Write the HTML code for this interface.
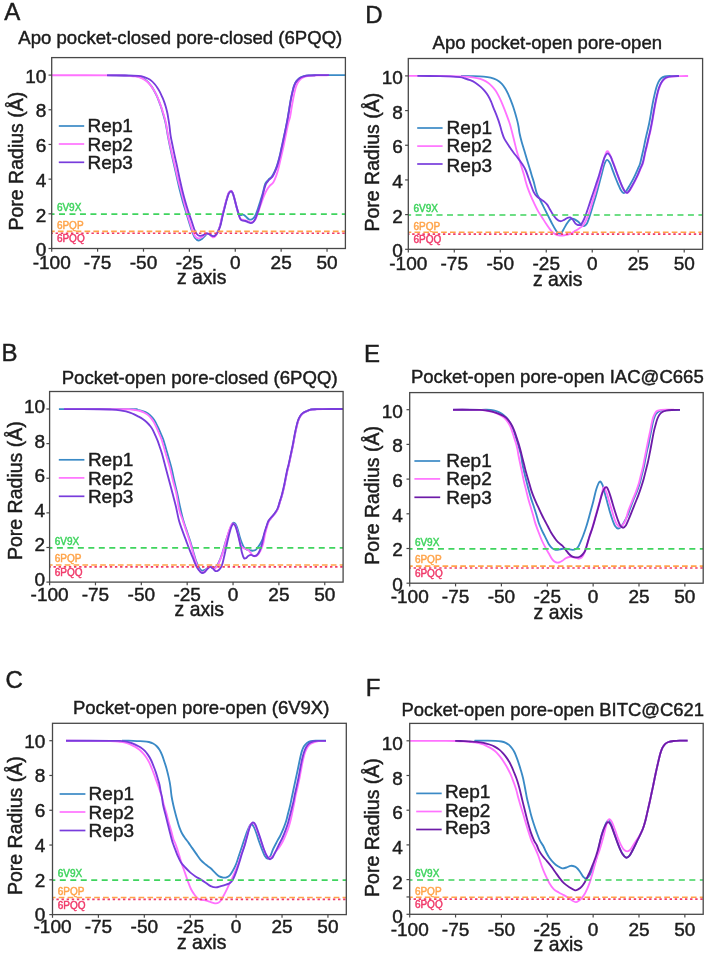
<!DOCTYPE html><html><head><meta charset="utf-8"><style>html,body{margin:0;padding:0;background:#fff;}svg{display:block;will-change:transform;filter:blur(0.4px);}text{font-family:"Liberation Sans", sans-serif;}</style></head><body>
<svg width="707" height="956" viewBox="0 0 707 956">
<rect width="707" height="956" fill="#fff"/>
<text x="4.20" y="20.40" font-size="24" fill="#1c1c1c" stroke="#1c1c1c" stroke-width="0.45">A</text>
<text x="18.30" y="43.80" font-size="18.57" fill="#1c1c1c" stroke="#1c1c1c" stroke-width="0.45">Apo pocket-closed pore-closed (6PQQ)</text>
<text transform="translate(22.60,230.50) rotate(-90)" font-size="19.5" fill="#1c1c1c" stroke="#1c1c1c" stroke-width="0.45">Pore Radius (Å)</text>
<text x="176.90" y="284.10" font-size="19.35" fill="#1c1c1c" stroke="#1c1c1c" stroke-width="0.45">z axis</text>
<clipPath id="clipA"><rect x="51.70" y="57.60" width="293.70" height="190.90"/></clipPath>
<g clip-path="url(#clipA)">
<path d="M107.00,75.20 C110.83,75.27 125.17,75.43 130.00,75.60 C134.83,75.77 134.17,75.88 136.00,76.20 C137.83,76.52 139.50,76.93 141.00,77.50 C142.50,78.07 143.75,78.75 145.00,79.60 C146.25,80.45 147.42,81.47 148.50,82.60 C149.58,83.73 150.58,85.08 151.50,86.40 C152.42,87.72 153.18,89.03 154.00,90.50 C154.82,91.97 155.60,93.48 156.40,95.20 C157.20,96.92 158.00,98.75 158.80,100.80 C159.60,102.85 160.47,105.27 161.20,107.50 C161.93,109.73 162.58,112.08 163.20,114.20 C163.82,116.32 164.43,118.40 164.90,120.20 C165.37,122.00 165.52,122.43 166.00,125.00 C166.48,127.57 167.15,132.07 167.80,135.60 C168.45,139.13 169.17,142.67 169.90,146.20 C170.63,149.73 171.42,153.27 172.20,156.80 C172.98,160.33 173.80,163.87 174.60,167.40 C175.40,170.93 176.12,174.13 177.00,178.00 C177.88,181.87 178.95,186.73 179.90,190.60 C180.85,194.47 181.70,197.67 182.70,201.20 C183.70,204.73 184.90,208.50 185.90,211.80 C186.90,215.10 187.70,217.82 188.70,221.00 C189.70,224.18 190.83,228.07 191.90,230.90 C192.97,233.73 193.98,236.40 195.10,238.00 C196.22,239.60 197.42,240.38 198.60,240.50 C199.78,240.62 201.13,239.47 202.20,238.70 C203.27,237.93 204.18,236.73 205.00,235.90 C205.82,235.07 206.28,233.93 207.10,233.70 C207.92,233.47 208.95,234.02 209.90,234.50 C210.85,234.98 211.97,236.37 212.80,236.60 C213.63,236.83 214.15,236.57 214.90,235.90 C215.65,235.23 216.43,234.28 217.30,232.60 C218.17,230.92 219.28,228.47 220.10,225.80 C220.92,223.13 221.48,219.55 222.20,216.60 C222.92,213.65 223.67,210.93 224.40,208.10 C225.13,205.27 225.88,202.08 226.60,199.60 C227.32,197.12 228.00,194.62 228.70,193.20 C229.40,191.78 230.15,191.15 230.80,191.10 C231.45,191.05 232.02,191.72 232.60,192.90 C233.18,194.08 233.72,196.13 234.30,198.20 C234.88,200.27 235.43,202.80 236.10,205.30 C236.77,207.80 237.57,211.58 238.30,213.20 C239.03,214.82 239.73,214.75 240.50,215.00 C241.27,215.25 242.20,214.63 242.90,214.70 C243.60,214.77 244.05,214.93 244.70,215.40 C245.35,215.87 246.10,216.85 246.80,217.50 C247.50,218.15 248.18,218.95 248.90,219.30 C249.62,219.65 250.33,219.78 251.10,219.60 C251.87,219.42 252.73,219.02 253.50,218.20 C254.27,217.38 254.98,216.23 255.70,214.70 C256.42,213.17 257.03,211.25 257.80,209.00 C258.57,206.75 259.48,203.80 260.30,201.20 C261.12,198.60 261.87,196.32 262.70,193.40 C263.53,190.48 264.38,185.93 265.30,183.70 C266.22,181.47 267.08,181.23 268.20,180.00 C269.32,178.77 270.90,177.78 272.00,176.30 C273.10,174.82 273.95,172.93 274.80,171.10 C275.65,169.27 276.33,167.62 277.10,165.30 C277.87,162.98 278.72,159.88 279.40,157.20 C280.08,154.52 280.58,152.00 281.20,149.20 C281.82,146.40 282.47,143.33 283.10,140.40 C283.73,137.47 284.38,134.53 285.00,131.60 C285.62,128.67 286.32,125.27 286.80,122.80 C287.28,120.33 287.48,119.22 287.90,116.80 C288.32,114.38 288.83,111.13 289.30,108.30 C289.77,105.47 290.22,102.38 290.70,99.80 C291.18,97.22 291.72,94.92 292.20,92.80 C292.68,90.68 293.08,88.75 293.60,87.10 C294.12,85.45 294.65,84.08 295.30,82.90 C295.95,81.72 296.67,80.88 297.50,80.00 C298.33,79.12 299.25,78.23 300.30,77.60 C301.35,76.97 302.38,76.57 303.80,76.20 C305.22,75.83 306.80,75.57 308.80,75.40 C310.80,75.23 309.70,75.25 315.80,75.20 C321.90,75.15 340.47,75.12 345.40,75.10" fill="none" stroke="#3a8ac6" stroke-width="1.85" stroke-linejoin="round" stroke-linecap="butt"/>
<path d="M51.70,75.20 C63.08,75.22 106.95,75.18 120.00,75.30 C133.05,75.42 127.48,75.72 130.00,75.90 C132.52,76.08 133.40,76.12 135.10,76.40 C136.80,76.68 138.65,77.03 140.20,77.60 C141.75,78.17 143.13,79.02 144.40,79.80 C145.67,80.58 146.67,81.25 147.80,82.30 C148.93,83.35 150.20,84.82 151.20,86.10 C152.20,87.38 152.95,88.58 153.80,90.00 C154.65,91.42 155.45,92.83 156.30,94.60 C157.15,96.37 158.05,98.47 158.90,100.60 C159.75,102.73 160.63,105.15 161.40,107.40 C162.17,109.65 162.87,111.98 163.50,114.10 C164.13,116.22 164.73,118.28 165.20,120.10 C165.67,121.92 165.82,122.42 166.30,125.00 C166.78,127.58 167.43,132.07 168.10,135.60 C168.77,139.13 169.53,142.67 170.30,146.20 C171.07,149.73 171.88,153.27 172.70,156.80 C173.52,160.33 174.35,163.78 175.20,167.40 C176.05,171.02 176.83,174.63 177.80,178.50 C178.77,182.37 180.00,186.82 181.00,190.60 C182.00,194.38 182.87,197.67 183.80,201.20 C184.73,204.73 185.67,208.50 186.60,211.80 C187.53,215.10 188.40,217.82 189.40,221.00 C190.40,224.18 191.60,228.30 192.60,230.90 C193.60,233.50 194.40,235.37 195.40,236.60 C196.40,237.83 197.53,238.18 198.60,238.30 C199.67,238.42 200.73,237.93 201.80,237.30 C202.87,236.67 204.12,235.15 205.00,234.50 C205.88,233.85 206.28,233.35 207.10,233.40 C207.92,233.45 208.95,234.15 209.90,234.80 C210.85,235.45 211.97,237.00 212.80,237.30 C213.63,237.60 214.15,237.32 214.90,236.60 C215.65,235.88 216.48,234.68 217.30,233.00 C218.12,231.32 219.02,229.17 219.80,226.50 C220.58,223.83 221.27,220.03 222.00,217.00 C222.73,213.97 223.47,211.17 224.20,208.30 C224.93,205.43 225.67,202.35 226.40,199.80 C227.13,197.25 227.87,194.50 228.60,193.00 C229.33,191.50 230.13,190.85 230.80,190.80 C231.47,190.75 232.02,191.50 232.60,192.70 C233.18,193.90 233.72,195.92 234.30,198.00 C234.88,200.08 235.50,202.95 236.10,205.20 C236.70,207.45 237.37,209.62 237.90,211.50 C238.43,213.38 238.82,215.22 239.30,216.50 C239.78,217.78 240.20,218.67 240.80,219.20 C241.40,219.73 242.13,219.52 242.90,219.70 C243.67,219.88 244.57,220.03 245.40,220.30 C246.23,220.57 247.02,220.97 247.90,221.30 C248.78,221.63 249.82,222.27 250.70,222.30 C251.58,222.33 252.40,222.02 253.20,221.50 C254.00,220.98 254.73,220.53 255.50,219.20 C256.27,217.87 256.97,215.78 257.80,213.50 C258.63,211.22 259.50,208.37 260.50,205.50 C261.50,202.63 262.75,198.88 263.80,196.30 C264.85,193.72 265.82,191.73 266.80,190.00 C267.78,188.27 268.60,187.20 269.70,185.90 C270.80,184.60 272.30,183.92 273.40,182.20 C274.50,180.48 275.45,177.92 276.30,175.60 C277.15,173.28 277.77,171.10 278.50,168.30 C279.23,165.50 279.97,161.97 280.70,158.80 C281.43,155.63 282.23,152.35 282.90,149.30 C283.57,146.25 284.10,143.43 284.70,140.50 C285.30,137.57 285.88,134.63 286.50,131.70 C287.12,128.77 287.80,125.37 288.40,122.90 C289.00,120.43 289.58,119.32 290.10,116.90 C290.62,114.48 291.02,111.23 291.50,108.40 C291.98,105.57 292.52,102.48 293.00,99.90 C293.48,97.32 293.93,95.02 294.40,92.90 C294.87,90.78 295.27,88.85 295.80,87.20 C296.33,85.55 296.95,84.18 297.60,83.00 C298.25,81.82 298.93,80.93 299.70,80.10 C300.47,79.27 301.27,78.58 302.20,78.00 C303.13,77.42 304.00,76.97 305.30,76.60 C306.60,76.23 307.88,76.02 310.00,75.80 C312.12,75.58 314.83,75.40 318.00,75.30 C321.17,75.20 327.17,75.22 329.00,75.20" fill="none" stroke="#ff72ff" stroke-width="1.85" stroke-linejoin="round" stroke-linecap="butt"/>
<path d="M107.00,75.30 C110.00,75.33 121.17,75.43 125.00,75.50 C128.83,75.57 127.75,75.63 130.00,75.70 C132.25,75.77 136.23,75.72 138.50,75.90 C140.77,76.08 142.05,76.37 143.60,76.80 C145.15,77.23 146.53,77.87 147.80,78.50 C149.07,79.13 150.07,79.68 151.20,80.60 C152.33,81.52 153.60,82.87 154.60,84.00 C155.60,85.13 156.35,86.13 157.20,87.40 C158.05,88.67 158.85,89.97 159.70,91.60 C160.55,93.23 161.58,95.57 162.30,97.20 C163.02,98.83 163.43,99.85 164.00,101.40 C164.57,102.95 165.13,104.52 165.70,106.50 C166.27,108.48 166.95,111.22 167.40,113.30 C167.85,115.38 168.07,116.97 168.40,119.00 C168.73,121.03 169.03,122.73 169.40,125.50 C169.77,128.27 170.05,132.15 170.60,135.60 C171.15,139.05 171.98,142.67 172.70,146.20 C173.42,149.73 174.13,153.27 174.90,156.80 C175.67,160.33 176.52,163.78 177.30,167.40 C178.08,171.02 178.75,174.63 179.60,178.50 C180.45,182.37 181.47,186.82 182.40,190.60 C183.33,194.38 184.20,197.67 185.20,201.20 C186.20,204.73 187.33,208.50 188.40,211.80 C189.47,215.10 190.60,218.05 191.60,221.00 C192.60,223.95 193.47,227.25 194.40,229.50 C195.33,231.75 196.27,233.43 197.20,234.50 C198.13,235.57 199.00,235.78 200.00,235.90 C201.00,236.02 202.13,235.62 203.20,235.20 C204.27,234.78 205.40,233.58 206.40,233.40 C207.40,233.22 208.25,233.68 209.20,234.10 C210.15,234.52 211.18,235.60 212.10,235.90 C213.02,236.20 213.80,236.45 214.70,235.90 C215.60,235.35 216.57,234.25 217.50,232.60 C218.43,230.95 219.48,228.63 220.30,226.00 C221.12,223.37 221.70,219.75 222.40,216.80 C223.10,213.85 223.78,211.13 224.50,208.30 C225.22,205.47 225.98,202.28 226.70,199.80 C227.42,197.32 228.10,194.82 228.80,193.40 C229.50,191.98 230.25,191.35 230.90,191.30 C231.55,191.25 232.12,191.92 232.70,193.10 C233.28,194.28 233.82,196.33 234.40,198.40 C234.98,200.47 235.60,203.27 236.20,205.50 C236.80,207.73 237.47,209.92 238.00,211.80 C238.53,213.68 238.93,215.50 239.40,216.80 C239.87,218.10 240.22,218.95 240.80,219.60 C241.38,220.25 242.13,220.47 242.90,220.70 C243.67,220.93 244.57,220.77 245.40,221.00 C246.23,221.23 247.02,221.75 247.90,222.10 C248.78,222.45 249.82,223.10 250.70,223.10 C251.58,223.10 252.43,222.80 253.20,222.10 C253.97,221.40 254.60,220.38 255.30,218.90 C256.00,217.42 256.63,215.43 257.40,213.20 C258.17,210.97 259.07,208.32 259.90,205.50 C260.73,202.68 261.72,198.88 262.40,196.30 C263.08,193.72 263.38,192.10 264.00,190.00 C264.62,187.90 265.27,185.37 266.10,183.70 C266.93,182.03 267.92,181.22 269.00,180.00 C270.08,178.78 271.57,177.87 272.60,176.40 C273.63,174.93 274.40,173.03 275.20,171.20 C276.00,169.37 276.67,167.72 277.40,165.40 C278.13,163.08 278.93,159.98 279.60,157.30 C280.27,154.62 280.78,152.10 281.40,149.30 C282.02,146.50 282.68,143.43 283.30,140.50 C283.92,137.57 284.50,134.63 285.10,131.70 C285.70,128.77 286.42,125.37 286.90,122.90 C287.38,120.43 287.58,119.32 288.00,116.90 C288.42,114.48 288.93,111.23 289.40,108.40 C289.87,105.57 290.32,102.48 290.80,99.90 C291.28,97.32 291.82,95.02 292.30,92.90 C292.78,90.78 293.18,88.85 293.70,87.20 C294.22,85.55 294.75,84.18 295.40,83.00 C296.05,81.82 296.77,80.98 297.60,80.10 C298.43,79.22 299.35,78.33 300.40,77.70 C301.45,77.07 302.48,76.67 303.90,76.30 C305.32,75.93 306.90,75.68 308.90,75.50 C310.90,75.32 313.55,75.27 315.90,75.20 C318.25,75.13 320.82,75.12 323.00,75.10 C325.18,75.08 328.00,75.10 329.00,75.10" fill="none" stroke="#783cdc" stroke-width="1.85" stroke-linejoin="round" stroke-linecap="butt"/>
<line x1="51.70" y1="214.17" x2="345.40" y2="214.17" stroke="#3fd45e" stroke-width="1.6" stroke-dasharray="6 4.474" stroke-dashoffset="3.17"/>
<line x1="51.70" y1="231.42" x2="345.40" y2="231.42" stroke="#ffa44a" stroke-width="1.6" stroke-dasharray="5.7 3.17" stroke-dashoffset="2.67"/>
<line x1="51.70" y1="233.29" x2="345.40" y2="233.29" stroke="#f03a6a" stroke-width="1.6" stroke-dasharray="2.4 2.72" stroke-dashoffset="1.22"/>
</g>
<text x="56.90" y="210.90" font-size="10" fill="#3fd45e" stroke="#3fd45e" stroke-width="0.45">6V9X</text>
<text x="56.90" y="228.70" font-size="10" fill="#ffa44a" stroke="#ffa44a" stroke-width="0.45">6PQP</text>
<text x="56.90" y="242.40" font-size="10" fill="#f03a6a" stroke="#f03a6a" stroke-width="0.45">6PQQ</text>
<line x1="58.80" y1="126.00" x2="84.20" y2="126.00" stroke="#3a8ac6" stroke-width="1.7"/>
<text x="87.50" y="132.30" font-size="19" fill="#1c1c1c" stroke="#1c1c1c" stroke-width="0.45">Rep1</text>
<line x1="58.80" y1="144.00" x2="84.20" y2="144.00" stroke="#ff72ff" stroke-width="1.7"/>
<text x="87.50" y="151.00" font-size="19" fill="#1c1c1c" stroke="#1c1c1c" stroke-width="0.45">Rep2</text>
<line x1="58.80" y1="162.30" x2="84.20" y2="162.30" stroke="#783cdc" stroke-width="1.7"/>
<text x="87.50" y="169.40" font-size="19" fill="#1c1c1c" stroke="#1c1c1c" stroke-width="0.45">Rep3</text>
<rect x="51.70" y="57.60" width="293.70" height="190.90" fill="none" stroke="#484848" stroke-width="1.3"/>
<line x1="48.50" y1="248.50" x2="51.70" y2="248.50" stroke="#484848" stroke-width="1.2"/>
<text x="46.40" y="256.20" font-size="19" fill="#1c1c1c" stroke="#1c1c1c" stroke-width="0.45" text-anchor="end">0</text>
<line x1="48.50" y1="213.82" x2="51.70" y2="213.82" stroke="#484848" stroke-width="1.2"/>
<text x="46.40" y="221.52" font-size="19" fill="#1c1c1c" stroke="#1c1c1c" stroke-width="0.45" text-anchor="end">2</text>
<line x1="48.50" y1="179.14" x2="51.70" y2="179.14" stroke="#484848" stroke-width="1.2"/>
<text x="46.40" y="186.84" font-size="19" fill="#1c1c1c" stroke="#1c1c1c" stroke-width="0.45" text-anchor="end">4</text>
<line x1="48.50" y1="144.46" x2="51.70" y2="144.46" stroke="#484848" stroke-width="1.2"/>
<text x="46.40" y="152.16" font-size="19" fill="#1c1c1c" stroke="#1c1c1c" stroke-width="0.45" text-anchor="end">6</text>
<line x1="48.50" y1="109.78" x2="51.70" y2="109.78" stroke="#484848" stroke-width="1.2"/>
<text x="46.40" y="117.48" font-size="19" fill="#1c1c1c" stroke="#1c1c1c" stroke-width="0.45" text-anchor="end">8</text>
<line x1="48.50" y1="75.10" x2="51.70" y2="75.10" stroke="#484848" stroke-width="1.2"/>
<text x="46.40" y="82.80" font-size="19" fill="#1c1c1c" stroke="#1c1c1c" stroke-width="0.45" text-anchor="end">10</text>
<line x1="51.70" y1="248.50" x2="51.70" y2="251.70" stroke="#484848" stroke-width="1.2"/>
<text x="51.70" y="268.50" font-size="19" fill="#1c1c1c" stroke="#1c1c1c" stroke-width="0.45" text-anchor="middle">-100</text>
<line x1="97.59" y1="248.50" x2="97.59" y2="251.70" stroke="#484848" stroke-width="1.2"/>
<text x="97.59" y="268.50" font-size="19" fill="#1c1c1c" stroke="#1c1c1c" stroke-width="0.45" text-anchor="middle">-75</text>
<line x1="143.48" y1="248.50" x2="143.48" y2="251.70" stroke="#484848" stroke-width="1.2"/>
<text x="143.48" y="268.50" font-size="19" fill="#1c1c1c" stroke="#1c1c1c" stroke-width="0.45" text-anchor="middle">-50</text>
<line x1="189.37" y1="248.50" x2="189.37" y2="251.70" stroke="#484848" stroke-width="1.2"/>
<text x="189.37" y="268.50" font-size="19" fill="#1c1c1c" stroke="#1c1c1c" stroke-width="0.45" text-anchor="middle">-25</text>
<line x1="235.26" y1="248.50" x2="235.26" y2="251.70" stroke="#484848" stroke-width="1.2"/>
<text x="235.26" y="268.50" font-size="19" fill="#1c1c1c" stroke="#1c1c1c" stroke-width="0.45" text-anchor="middle">0</text>
<line x1="281.15" y1="248.50" x2="281.15" y2="251.70" stroke="#484848" stroke-width="1.2"/>
<text x="281.15" y="268.50" font-size="19" fill="#1c1c1c" stroke="#1c1c1c" stroke-width="0.45" text-anchor="middle">25</text>
<line x1="327.04" y1="248.50" x2="327.04" y2="251.70" stroke="#484848" stroke-width="1.2"/>
<text x="327.04" y="268.50" font-size="19" fill="#1c1c1c" stroke="#1c1c1c" stroke-width="0.45" text-anchor="middle">50</text>
<text x="1.50" y="361.40" font-size="24" fill="#1c1c1c" stroke="#1c1c1c" stroke-width="0.45">B</text>
<text x="61.70" y="383.70" font-size="18.60" fill="#1c1c1c" stroke="#1c1c1c" stroke-width="0.45">Pocket-open pore-closed (6PQQ)</text>
<text transform="translate(22.30,560.00) rotate(-90)" font-size="19.5" fill="#1c1c1c" stroke="#1c1c1c" stroke-width="0.45">Pore Radius (Å)</text>
<text x="174.60" y="616.30" font-size="19.35" fill="#1c1c1c" stroke="#1c1c1c" stroke-width="0.45">z axis</text>
<clipPath id="clipB"><rect x="49.60" y="391.50" width="293.50" height="190.60"/></clipPath>
<g clip-path="url(#clipB)">
<path d="M58.90,409.10 C70.75,409.10 117.15,409.00 130.00,409.10 C142.85,409.20 134.17,409.45 136.00,409.70 C137.83,409.95 139.42,410.18 141.00,410.60 C142.58,411.02 144.08,411.52 145.50,412.20 C146.92,412.88 148.25,413.68 149.50,414.70 C150.75,415.72 152.00,417.07 153.00,418.30 C154.00,419.53 154.67,420.62 155.50,422.10 C156.33,423.58 157.15,425.37 158.00,427.20 C158.85,429.03 159.75,431.13 160.60,433.10 C161.45,435.07 162.33,436.88 163.10,439.00 C163.87,441.12 164.57,443.67 165.20,445.80 C165.83,447.93 165.87,448.15 166.90,451.80 C167.93,455.45 170.18,462.92 171.40,467.70 C172.62,472.48 173.23,476.25 174.20,480.50 C175.17,484.75 176.18,488.62 177.20,493.20 C178.22,497.78 179.30,503.53 180.30,508.00 C181.30,512.47 182.15,516.27 183.20,520.00 C184.25,523.73 185.47,526.97 186.60,530.40 C187.73,533.83 188.93,537.22 190.00,540.60 C191.07,543.98 192.00,547.32 193.00,550.70 C194.00,554.08 195.00,558.10 196.00,560.90 C197.00,563.70 198.08,565.90 199.00,567.50 C199.92,569.10 200.77,570.00 201.50,570.50 C202.23,571.00 202.60,570.75 203.40,570.50 C204.20,570.25 205.35,569.60 206.30,569.00 C207.25,568.40 208.28,567.30 209.10,566.90 C209.92,566.50 210.43,566.37 211.20,566.60 C211.97,566.83 213.07,568.07 213.70,568.30 C214.33,568.53 214.20,568.88 215.00,568.00 C215.80,567.12 217.32,565.37 218.50,563.00 C219.68,560.63 220.92,557.33 222.10,553.80 C223.28,550.27 224.43,545.57 225.60,541.80 C226.77,538.03 228.03,534.15 229.10,531.20 C230.17,528.25 231.23,525.52 232.00,524.10 C232.77,522.68 233.12,522.70 233.70,522.70 C234.28,522.70 234.85,523.03 235.50,524.10 C236.15,525.17 236.88,526.97 237.60,529.10 C238.32,531.23 239.08,534.55 239.80,536.90 C240.52,539.25 241.20,541.43 241.90,543.20 C242.60,544.97 243.18,546.43 244.00,547.50 C244.82,548.57 245.73,549.13 246.80,549.60 C247.87,550.07 249.33,550.12 250.40,550.30 C251.47,550.48 252.27,550.82 253.20,550.70 C254.13,550.58 255.07,550.37 256.00,549.60 C256.93,548.83 257.85,547.52 258.80,546.10 C259.75,544.68 260.75,543.12 261.70,541.10 C262.65,539.08 263.70,536.35 264.50,534.00 C265.30,531.65 265.82,529.13 266.50,527.00 C267.18,524.87 267.70,522.87 268.60,521.20 C269.50,519.53 270.78,518.40 271.90,517.00 C273.02,515.60 274.32,514.20 275.30,512.80 C276.28,511.40 277.03,510.42 277.80,508.60 C278.57,506.78 279.20,504.13 279.90,501.90 C280.60,499.67 281.32,497.70 282.00,495.20 C282.68,492.70 283.38,489.68 284.00,486.90 C284.62,484.12 285.13,481.30 285.70,478.50 C286.27,475.70 286.90,472.33 287.40,470.10 C287.90,467.87 288.13,467.57 288.70,465.10 C289.27,462.63 290.10,458.58 290.80,455.30 C291.50,452.02 292.25,448.70 292.90,445.40 C293.55,442.10 294.10,438.57 294.70,435.50 C295.30,432.43 295.92,429.48 296.50,427.00 C297.08,424.52 297.55,422.45 298.20,420.60 C298.85,418.75 299.52,417.22 300.40,415.90 C301.28,414.58 302.38,413.52 303.50,412.70 C304.62,411.88 305.80,411.53 307.10,411.00 C308.40,410.47 309.65,409.80 311.30,409.50 C312.95,409.20 311.72,409.27 317.00,409.20 C322.28,409.13 338.67,409.12 343.00,409.10" fill="none" stroke="#3a8ac6" stroke-width="1.85" stroke-linejoin="round" stroke-linecap="butt"/>
<path d="M64.00,409.10 C73.33,409.12 109.00,409.17 120.00,409.20 C131.00,409.23 127.48,409.17 130.00,409.30 C132.52,409.43 133.40,409.72 135.10,410.00 C136.80,410.28 138.65,410.55 140.20,411.00 C141.75,411.45 143.13,412.05 144.40,412.70 C145.67,413.35 146.67,413.97 147.80,414.90 C148.93,415.83 150.20,417.10 151.20,418.30 C152.20,419.50 152.95,420.62 153.80,422.10 C154.65,423.58 155.45,425.37 156.30,427.20 C157.15,429.03 158.05,431.13 158.90,433.10 C159.75,435.07 160.63,436.88 161.40,439.00 C162.17,441.12 162.87,443.67 163.50,445.80 C164.13,447.93 164.13,448.15 165.20,451.80 C166.27,455.45 168.62,462.92 169.90,467.70 C171.18,472.48 171.83,476.25 172.90,480.50 C173.97,484.75 175.23,488.28 176.30,493.20 C177.37,498.12 178.23,505.50 179.30,510.00 C180.37,514.50 181.57,516.80 182.70,520.20 C183.83,523.60 184.97,527.00 186.10,530.40 C187.23,533.80 188.43,537.22 189.50,540.60 C190.57,543.98 191.50,547.32 192.50,550.70 C193.50,554.08 194.52,557.92 195.50,560.90 C196.48,563.88 197.40,566.67 198.40,568.60 C199.40,570.53 200.48,572.02 201.50,572.50 C202.52,572.98 203.50,572.17 204.50,571.50 C205.50,570.83 206.55,569.30 207.50,568.50 C208.45,567.70 209.35,566.78 210.20,566.70 C211.05,566.62 211.80,567.67 212.60,568.00 C213.40,568.33 214.02,569.42 215.00,568.70 C215.98,567.98 217.32,566.05 218.50,563.70 C219.68,561.35 220.92,558.13 222.10,554.60 C223.28,551.07 224.43,546.52 225.60,542.50 C226.77,538.48 228.03,533.57 229.10,530.50 C230.17,527.43 231.27,525.22 232.00,524.10 C232.73,522.98 232.97,523.62 233.50,523.80 C234.03,523.98 234.57,523.97 235.20,525.20 C235.83,526.43 236.60,528.78 237.30,531.20 C238.00,533.62 238.75,537.22 239.40,539.70 C240.05,542.18 240.55,544.68 241.20,546.10 C241.85,547.52 242.48,547.73 243.30,548.20 C244.12,548.67 245.28,548.60 246.10,548.90 C246.92,549.20 247.48,549.42 248.20,550.00 C248.92,550.58 249.68,551.52 250.40,552.40 C251.12,553.28 251.80,554.65 252.50,555.30 C253.20,555.95 253.78,556.30 254.60,556.30 C255.42,556.30 256.45,556.18 257.40,555.30 C258.35,554.42 259.35,552.90 260.30,551.00 C261.25,549.10 262.32,546.65 263.10,543.90 C263.88,541.15 264.38,537.23 265.00,534.50 C265.62,531.77 266.17,529.67 266.80,527.50 C267.43,525.33 267.93,523.22 268.80,521.50 C269.67,519.78 270.90,518.62 272.00,517.20 C273.10,515.78 274.42,514.40 275.40,513.00 C276.38,511.60 277.13,510.63 277.90,508.80 C278.67,506.97 279.30,504.25 280.00,502.00 C280.70,499.75 281.42,497.80 282.10,495.30 C282.78,492.80 283.48,489.78 284.10,487.00 C284.72,484.22 285.23,481.40 285.80,478.60 C286.37,475.80 287.00,472.43 287.50,470.20 C288.00,467.97 288.23,467.67 288.80,465.20 C289.37,462.73 290.20,458.68 290.90,455.40 C291.60,452.12 292.35,448.80 293.00,445.50 C293.65,442.20 294.20,438.67 294.80,435.60 C295.40,432.53 296.02,429.58 296.60,427.10 C297.18,424.62 297.65,422.55 298.30,420.70 C298.95,418.85 299.62,417.32 300.50,416.00 C301.38,414.68 302.48,413.62 303.60,412.80 C304.72,411.98 305.90,411.63 307.20,411.10 C308.50,410.57 309.77,409.90 311.40,409.60 C313.03,409.30 313.90,409.38 317.00,409.30 C320.10,409.22 327.83,409.13 330.00,409.10" fill="none" stroke="#ff72ff" stroke-width="1.85" stroke-linejoin="round" stroke-linecap="butt"/>
<path d="M64.00,409.10 C70.00,409.12 92.00,409.12 100.00,409.20 C108.00,409.28 108.67,409.42 112.00,409.60 C115.33,409.78 117.67,410.00 120.00,410.30 C122.33,410.60 124.33,411.00 126.00,411.40 C127.67,411.80 128.63,412.20 130.00,412.70 C131.37,413.20 132.78,413.75 134.20,414.40 C135.62,415.05 137.08,415.82 138.50,416.60 C139.92,417.38 141.28,418.12 142.70,419.10 C144.12,420.08 145.72,421.30 147.00,422.50 C148.28,423.70 149.42,425.03 150.40,426.30 C151.38,427.57 152.05,428.53 152.90,430.10 C153.75,431.67 154.72,433.93 155.50,435.70 C156.28,437.47 156.90,438.87 157.60,440.70 C158.30,442.53 159.07,444.85 159.70,446.70 C160.33,448.55 160.83,449.97 161.40,451.80 C161.97,453.63 162.38,455.05 163.10,457.70 C163.82,460.35 164.70,463.90 165.70,467.70 C166.70,471.50 167.97,476.25 169.10,480.50 C170.23,484.75 171.38,488.95 172.50,493.20 C173.62,497.45 174.73,501.50 175.80,506.00 C176.87,510.50 177.82,516.13 178.90,520.20 C179.98,524.27 181.10,527.00 182.30,530.40 C183.50,533.80 184.83,537.22 186.10,540.60 C187.37,543.98 188.78,547.85 189.90,550.70 C191.02,553.55 191.83,555.35 192.80,557.70 C193.77,560.05 194.75,562.78 195.70,564.80 C196.65,566.82 197.50,568.45 198.50,569.80 C199.50,571.15 200.63,572.55 201.70,572.90 C202.77,573.25 203.90,572.60 204.90,571.90 C205.90,571.20 206.82,569.53 207.70,568.70 C208.58,567.87 209.38,566.97 210.20,566.90 C211.02,566.83 211.78,567.65 212.60,568.30 C213.42,568.95 214.27,570.38 215.10,570.80 C215.93,571.22 216.72,571.22 217.60,570.80 C218.48,570.38 219.58,569.53 220.40,568.30 C221.22,567.07 221.82,565.62 222.50,563.40 C223.18,561.18 223.72,558.48 224.50,555.00 C225.28,551.52 226.25,546.58 227.20,542.50 C228.15,538.42 229.35,533.43 230.20,530.50 C231.05,527.57 231.72,525.97 232.30,524.90 C232.88,523.83 233.17,523.87 233.70,524.10 C234.23,524.33 234.85,524.77 235.50,526.30 C236.15,527.83 236.88,530.60 237.60,533.30 C238.32,536.00 239.08,539.32 239.80,542.50 C240.52,545.68 241.20,549.80 241.90,552.40 C242.60,555.00 243.30,557.15 244.00,558.10 C244.70,559.05 245.40,558.45 246.10,558.10 C246.80,557.75 247.37,556.53 248.20,556.00 C249.03,555.47 250.15,554.90 251.10,554.90 C252.05,554.90 252.97,555.93 253.90,556.00 C254.83,556.07 255.75,556.13 256.70,555.30 C257.65,554.47 258.70,552.97 259.60,551.00 C260.50,549.03 261.33,546.40 262.10,543.50 C262.87,540.60 263.50,536.37 264.20,533.60 C264.90,530.83 265.60,529.00 266.30,526.90 C267.00,524.80 267.50,522.67 268.40,521.00 C269.30,519.33 270.58,518.28 271.70,516.90 C272.82,515.52 274.12,514.10 275.10,512.70 C276.08,511.30 276.83,510.32 277.60,508.50 C278.37,506.68 279.00,504.03 279.70,501.80 C280.40,499.57 281.12,497.60 281.80,495.10 C282.48,492.60 283.18,489.58 283.80,486.80 C284.42,484.02 284.93,481.20 285.50,478.40 C286.07,475.60 286.70,472.23 287.20,470.00 C287.70,467.77 287.93,467.47 288.50,465.00 C289.07,462.53 289.90,458.48 290.60,455.20 C291.30,451.92 292.05,448.60 292.70,445.30 C293.35,442.00 293.90,438.47 294.50,435.40 C295.10,432.33 295.72,429.38 296.30,426.90 C296.88,424.42 297.35,422.33 298.00,420.50 C298.65,418.67 299.32,417.20 300.20,415.90 C301.08,414.60 302.18,413.52 303.30,412.70 C304.42,411.88 305.60,411.53 306.90,411.00 C308.20,410.47 309.45,409.80 311.10,409.50 C312.75,409.20 314.92,409.27 316.80,409.20 C318.68,409.13 318.03,409.13 322.40,409.10 C326.77,409.07 339.57,409.02 343.00,409.00" fill="none" stroke="#783cdc" stroke-width="1.85" stroke-linejoin="round" stroke-linecap="butt"/>
<line x1="49.60" y1="547.83" x2="343.10" y2="547.83" stroke="#3fd45e" stroke-width="1.6" stroke-dasharray="6 4.474" stroke-dashoffset="3.17"/>
<line x1="49.60" y1="565.05" x2="343.10" y2="565.05" stroke="#ffa44a" stroke-width="1.6" stroke-dasharray="5.7 3.17" stroke-dashoffset="2.67"/>
<line x1="49.60" y1="566.92" x2="343.10" y2="566.92" stroke="#f03a6a" stroke-width="1.6" stroke-dasharray="2.4 2.72" stroke-dashoffset="1.22"/>
</g>
<text x="54.80" y="544.50" font-size="10" fill="#3fd45e" stroke="#3fd45e" stroke-width="0.45">6V9X</text>
<text x="54.80" y="562.30" font-size="10" fill="#ffa44a" stroke="#ffa44a" stroke-width="0.45">6PQP</text>
<text x="54.80" y="576.00" font-size="10" fill="#f03a6a" stroke="#f03a6a" stroke-width="0.45">6PQQ</text>
<line x1="58.80" y1="459.80" x2="84.40" y2="459.80" stroke="#3a8ac6" stroke-width="1.7"/>
<text x="87.90" y="466.20" font-size="19" fill="#1c1c1c" stroke="#1c1c1c" stroke-width="0.45">Rep1</text>
<line x1="58.80" y1="477.90" x2="84.40" y2="477.90" stroke="#ff72ff" stroke-width="1.7"/>
<text x="87.90" y="484.60" font-size="19" fill="#1c1c1c" stroke="#1c1c1c" stroke-width="0.45">Rep2</text>
<line x1="58.80" y1="496.30" x2="84.40" y2="496.30" stroke="#783cdc" stroke-width="1.7"/>
<text x="87.90" y="502.90" font-size="19" fill="#1c1c1c" stroke="#1c1c1c" stroke-width="0.45">Rep3</text>
<rect x="49.60" y="391.50" width="293.50" height="190.60" fill="none" stroke="#484848" stroke-width="1.3"/>
<line x1="46.40" y1="582.10" x2="49.60" y2="582.10" stroke="#484848" stroke-width="1.2"/>
<text x="45.20" y="586.00" font-size="19" fill="#1c1c1c" stroke="#1c1c1c" stroke-width="0.45" text-anchor="end">0</text>
<line x1="46.40" y1="547.48" x2="49.60" y2="547.48" stroke="#484848" stroke-width="1.2"/>
<text x="45.20" y="551.38" font-size="19" fill="#1c1c1c" stroke="#1c1c1c" stroke-width="0.45" text-anchor="end">2</text>
<line x1="46.40" y1="512.86" x2="49.60" y2="512.86" stroke="#484848" stroke-width="1.2"/>
<text x="45.20" y="516.76" font-size="19" fill="#1c1c1c" stroke="#1c1c1c" stroke-width="0.45" text-anchor="end">4</text>
<line x1="46.40" y1="478.24" x2="49.60" y2="478.24" stroke="#484848" stroke-width="1.2"/>
<text x="45.20" y="482.14" font-size="19" fill="#1c1c1c" stroke="#1c1c1c" stroke-width="0.45" text-anchor="end">6</text>
<line x1="46.40" y1="443.62" x2="49.60" y2="443.62" stroke="#484848" stroke-width="1.2"/>
<text x="45.20" y="447.52" font-size="19" fill="#1c1c1c" stroke="#1c1c1c" stroke-width="0.45" text-anchor="end">8</text>
<line x1="46.40" y1="409.00" x2="49.60" y2="409.00" stroke="#484848" stroke-width="1.2"/>
<text x="45.20" y="412.90" font-size="19" fill="#1c1c1c" stroke="#1c1c1c" stroke-width="0.45" text-anchor="end">10</text>
<line x1="49.60" y1="582.10" x2="49.60" y2="585.30" stroke="#484848" stroke-width="1.2"/>
<text x="49.60" y="600.50" font-size="19" fill="#1c1c1c" stroke="#1c1c1c" stroke-width="0.45" text-anchor="middle">-100</text>
<line x1="95.46" y1="582.10" x2="95.46" y2="585.30" stroke="#484848" stroke-width="1.2"/>
<text x="95.46" y="600.50" font-size="19" fill="#1c1c1c" stroke="#1c1c1c" stroke-width="0.45" text-anchor="middle">-75</text>
<line x1="141.32" y1="582.10" x2="141.32" y2="585.30" stroke="#484848" stroke-width="1.2"/>
<text x="141.32" y="600.50" font-size="19" fill="#1c1c1c" stroke="#1c1c1c" stroke-width="0.45" text-anchor="middle">-50</text>
<line x1="187.18" y1="582.10" x2="187.18" y2="585.30" stroke="#484848" stroke-width="1.2"/>
<text x="187.18" y="600.50" font-size="19" fill="#1c1c1c" stroke="#1c1c1c" stroke-width="0.45" text-anchor="middle">-25</text>
<line x1="233.04" y1="582.10" x2="233.04" y2="585.30" stroke="#484848" stroke-width="1.2"/>
<text x="233.04" y="600.50" font-size="19" fill="#1c1c1c" stroke="#1c1c1c" stroke-width="0.45" text-anchor="middle">0</text>
<line x1="278.90" y1="582.10" x2="278.90" y2="585.30" stroke="#484848" stroke-width="1.2"/>
<text x="278.90" y="600.50" font-size="19" fill="#1c1c1c" stroke="#1c1c1c" stroke-width="0.45" text-anchor="middle">25</text>
<line x1="324.76" y1="582.10" x2="324.76" y2="585.30" stroke="#484848" stroke-width="1.2"/>
<text x="324.76" y="600.50" font-size="19" fill="#1c1c1c" stroke="#1c1c1c" stroke-width="0.45" text-anchor="middle">50</text>
<text x="5.60" y="688.00" font-size="24" fill="#1c1c1c" stroke="#1c1c1c" stroke-width="0.45">C</text>
<text x="72.90" y="714.00" font-size="18.55" fill="#1c1c1c" stroke="#1c1c1c" stroke-width="0.45">Pocket-open pore-open (6V9X)</text>
<text transform="translate(22.30,895.00) rotate(-90)" font-size="19.5" fill="#1c1c1c" stroke="#1c1c1c" stroke-width="0.45">Pore Radius (Å)</text>
<text x="176.90" y="949.10" font-size="19.35" fill="#1c1c1c" stroke="#1c1c1c" stroke-width="0.45">z axis</text>
<clipPath id="clipC"><rect x="52.50" y="723.30" width="293.80" height="191.30"/></clipPath>
<g clip-path="url(#clipC)">
<path d="M122.00,740.60 C123.08,740.62 126.00,740.62 128.50,740.70 C131.00,740.78 134.45,741.00 137.00,741.10 C139.55,741.20 141.82,741.15 143.80,741.30 C145.78,741.45 147.35,741.63 148.90,742.00 C150.45,742.37 151.83,742.83 153.10,743.50 C154.37,744.17 155.43,744.95 156.50,746.00 C157.57,747.05 158.58,748.32 159.50,749.80 C160.42,751.28 161.23,753.05 162.00,754.90 C162.77,756.75 163.38,758.77 164.10,760.90 C164.82,763.03 165.65,765.45 166.30,767.70 C166.95,769.95 167.43,772.00 168.00,774.40 C168.57,776.80 169.27,779.83 169.70,782.10 C170.13,784.37 170.28,785.60 170.60,788.00 C170.92,790.40 171.15,793.67 171.60,796.50 C172.05,799.33 172.67,802.17 173.30,805.00 C173.93,807.83 174.70,810.82 175.40,813.50 C176.10,816.18 176.80,818.70 177.50,821.10 C178.20,823.50 178.82,825.78 179.60,827.90 C180.38,830.02 181.20,831.97 182.20,833.80 C183.20,835.63 184.55,837.43 185.60,838.90 C186.65,840.37 187.42,841.10 188.50,842.60 C189.58,844.10 190.80,846.02 192.10,847.90 C193.40,849.78 194.88,851.92 196.30,853.90 C197.72,855.88 199.03,858.03 200.60,859.80 C202.17,861.57 204.02,863.08 205.70,864.50 C207.38,865.92 209.15,866.95 210.70,868.30 C212.25,869.65 213.58,871.25 215.00,872.60 C216.42,873.95 217.78,875.57 219.20,876.40 C220.62,877.23 222.28,877.43 223.50,877.60 C224.72,877.77 225.42,877.82 226.50,877.40 C227.58,876.98 228.93,876.23 230.00,875.10 C231.07,873.97 231.92,872.33 232.90,870.60 C233.88,868.87 234.90,867.18 235.90,864.70 C236.90,862.22 237.90,858.68 238.90,855.70 C239.90,852.72 240.90,849.78 241.90,846.80 C242.90,843.82 243.92,840.62 244.90,837.80 C245.88,834.98 246.90,832.05 247.80,829.90 C248.70,827.75 249.63,825.82 250.30,824.90 C250.97,823.98 251.22,824.07 251.80,824.40 C252.38,824.73 253.05,825.48 253.80,826.90 C254.55,828.32 255.47,830.58 256.30,832.90 C257.13,835.22 257.88,838.15 258.80,840.80 C259.72,843.45 260.82,846.32 261.80,848.80 C262.78,851.28 263.72,854.05 264.70,855.70 C265.68,857.35 266.78,858.57 267.70,858.70 C268.62,858.83 269.30,858.08 270.20,856.50 C271.10,854.92 272.00,851.63 273.10,849.20 C274.20,846.77 275.58,844.22 276.80,841.90 C278.02,839.58 279.25,837.63 280.40,835.30 C281.55,832.97 282.72,830.35 283.70,827.90 C284.68,825.45 285.57,823.03 286.30,820.60 C287.03,818.17 287.48,815.73 288.10,813.30 C288.72,810.87 289.40,808.55 290.00,806.00 C290.60,803.45 291.07,801.00 291.70,798.00 C292.33,795.00 293.08,791.37 293.80,788.00 C294.52,784.63 295.27,781.22 296.00,777.80 C296.73,774.38 297.53,770.68 298.20,767.50 C298.87,764.32 299.40,761.38 300.00,758.70 C300.60,756.02 301.13,753.47 301.80,751.40 C302.47,749.33 303.13,747.70 304.00,746.30 C304.87,744.90 305.90,743.85 307.00,743.00 C308.10,742.15 309.15,741.60 310.60,741.20 C312.05,740.80 313.13,740.70 315.70,740.60 C318.27,740.50 324.28,740.60 326.00,740.60" fill="none" stroke="#3a8ac6" stroke-width="1.85" stroke-linejoin="round" stroke-linecap="butt"/>
<path d="M66.00,740.70 C73.33,740.75 101.00,740.82 110.00,741.00 C119.00,741.18 117.48,741.53 120.00,741.80 C122.52,742.07 123.40,742.18 125.10,742.60 C126.80,743.02 128.50,743.58 130.20,744.30 C131.90,745.02 133.75,745.98 135.30,746.90 C136.85,747.82 138.23,748.75 139.50,749.80 C140.77,750.85 141.77,751.92 142.90,753.20 C144.03,754.48 145.23,755.93 146.30,757.50 C147.37,759.07 148.38,760.77 149.30,762.60 C150.22,764.43 150.95,766.38 151.80,768.50 C152.65,770.62 153.62,773.18 154.40,775.30 C155.18,777.42 155.70,779.00 156.50,781.20 C157.30,783.40 158.32,785.95 159.20,788.50 C160.08,791.05 161.02,793.75 161.80,796.50 C162.58,799.25 163.12,802.17 163.90,805.00 C164.68,807.83 165.72,810.67 166.50,813.50 C167.28,816.33 167.83,819.18 168.60,822.00 C169.37,824.82 170.32,827.58 171.10,830.40 C171.88,833.22 172.63,836.80 173.30,838.90 C173.97,841.00 174.45,841.35 175.10,843.00 C175.75,844.65 176.50,846.70 177.20,848.80 C177.90,850.90 178.52,853.05 179.30,855.60 C180.08,858.15 180.97,861.27 181.90,864.10 C182.83,866.93 183.92,869.78 184.90,872.60 C185.88,875.42 186.75,878.18 187.80,881.00 C188.85,883.82 189.95,887.03 191.20,889.50 C192.45,891.97 194.28,894.38 195.30,895.80 C196.32,897.22 196.60,897.40 197.30,898.00 C198.00,898.60 198.57,899.07 199.50,899.40 C200.43,899.73 201.77,899.80 202.90,900.00 C204.03,900.20 205.17,900.32 206.30,900.60 C207.43,900.88 208.57,901.33 209.70,901.70 C210.83,902.07 212.07,902.52 213.10,902.80 C214.13,903.08 214.95,903.45 215.90,903.40 C216.85,903.35 217.95,903.02 218.80,902.50 C219.65,901.98 220.25,901.33 221.00,900.30 C221.75,899.27 222.53,897.72 223.30,896.30 C224.07,894.88 224.85,893.30 225.60,891.80 C226.35,890.30 227.07,888.83 227.80,887.30 C228.53,885.77 229.15,884.38 230.00,882.60 C230.85,880.82 231.92,878.75 232.90,876.60 C233.88,874.45 234.90,872.18 235.90,869.70 C236.90,867.22 237.90,864.52 238.90,861.70 C239.90,858.88 240.90,855.78 241.90,852.80 C242.90,849.82 243.92,847.12 244.90,843.80 C245.88,840.48 246.90,836.05 247.80,832.90 C248.70,829.75 249.47,826.57 250.30,824.90 C251.13,823.23 252.05,822.90 252.80,822.90 C253.55,822.90 254.05,823.57 254.80,824.90 C255.55,826.23 256.38,828.58 257.30,830.90 C258.22,833.22 259.30,835.98 260.30,838.80 C261.30,841.62 262.32,845.15 263.30,847.80 C264.28,850.45 265.22,852.97 266.20,854.70 C267.18,856.43 268.17,857.90 269.20,858.20 C270.23,858.50 271.38,857.52 272.40,856.50 C273.42,855.48 274.20,853.57 275.30,852.10 C276.40,850.63 277.78,849.40 279.00,847.70 C280.22,846.00 281.45,844.10 282.60,841.90 C283.75,839.70 284.85,837.07 285.90,834.50 C286.95,831.93 288.03,829.18 288.90,826.50 C289.77,823.82 290.43,821.22 291.10,818.40 C291.77,815.58 292.35,812.28 292.90,809.60 C293.45,806.92 293.98,804.48 294.40,802.30 C294.82,800.12 294.90,798.88 295.40,796.50 C295.90,794.12 296.70,791.12 297.40,788.00 C298.10,784.88 298.92,781.22 299.60,777.80 C300.28,774.38 300.88,770.68 301.50,767.50 C302.12,764.32 302.70,761.25 303.30,758.70 C303.90,756.15 304.43,754.08 305.10,752.20 C305.77,750.32 306.43,748.75 307.30,747.40 C308.17,746.05 309.20,744.95 310.30,744.10 C311.40,743.25 312.50,742.78 313.90,742.30 C315.30,741.82 316.68,741.43 318.70,741.20 C320.72,740.97 324.78,740.95 326.00,740.90" fill="none" stroke="#ff72ff" stroke-width="1.85" stroke-linejoin="round" stroke-linecap="butt"/>
<path d="M66.00,740.70 C73.33,740.72 101.00,740.77 110.00,740.80 C119.00,740.83 117.48,740.82 120.00,740.90 C122.52,740.98 123.40,741.02 125.10,741.30 C126.80,741.58 128.50,742.03 130.20,742.60 C131.90,743.17 133.60,743.92 135.30,744.70 C137.00,745.48 138.85,746.30 140.40,747.30 C141.95,748.30 143.33,749.43 144.60,750.70 C145.87,751.97 146.93,753.35 148.00,754.90 C149.07,756.45 150.08,758.15 151.00,760.00 C151.92,761.85 152.72,764.02 153.50,766.00 C154.28,767.98 154.98,769.78 155.70,771.90 C156.42,774.02 157.17,776.58 157.80,778.70 C158.43,780.82 159.03,782.55 159.50,784.60 C159.97,786.65 160.20,788.93 160.60,791.00 C161.00,793.07 161.48,794.67 161.90,797.00 C162.32,799.33 162.55,802.25 163.10,805.00 C163.65,807.75 164.50,810.67 165.20,813.50 C165.90,816.33 166.60,819.18 167.30,822.00 C168.00,824.82 168.68,827.58 169.40,830.40 C170.12,833.22 171.03,836.80 171.60,838.90 C172.17,841.00 172.23,841.35 172.80,843.00 C173.37,844.65 174.20,846.70 175.00,848.80 C175.80,850.90 176.60,853.33 177.60,855.60 C178.60,857.87 179.72,860.42 181.00,862.40 C182.28,864.38 183.73,865.80 185.30,867.50 C186.87,869.20 188.70,871.12 190.40,872.60 C192.10,874.08 193.80,875.27 195.50,876.40 C197.20,877.53 198.90,878.35 200.60,879.40 C202.30,880.45 204.02,881.58 205.70,882.70 C207.38,883.82 209.02,885.32 210.70,886.10 C212.38,886.88 214.10,887.40 215.80,887.40 C217.50,887.40 219.20,886.57 220.90,886.10 C222.60,885.63 224.48,885.10 226.00,884.60 C227.52,884.10 228.85,883.93 230.00,883.10 C231.15,882.27 231.92,881.35 232.90,879.60 C233.88,877.85 234.90,875.25 235.90,872.60 C236.90,869.95 237.90,866.83 238.90,863.70 C239.90,860.57 240.90,856.95 241.90,853.80 C242.90,850.65 243.92,848.12 244.90,844.80 C245.88,841.48 246.90,837.05 247.80,833.90 C248.70,830.75 249.47,827.82 250.30,825.90 C251.13,823.98 251.97,822.65 252.80,822.40 C253.63,822.15 254.47,822.98 255.30,824.40 C256.13,825.82 256.88,828.33 257.80,830.90 C258.72,833.47 259.82,836.82 260.80,839.80 C261.78,842.78 262.72,846.15 263.70,848.80 C264.68,851.45 265.70,853.97 266.70,855.70 C267.70,857.43 268.82,858.82 269.70,859.20 C270.58,859.58 271.43,858.45 272.00,858.00 C272.57,857.55 272.42,857.73 273.10,856.50 C273.78,855.27 275.07,852.68 276.10,850.60 C277.13,848.52 278.22,846.18 279.30,844.00 C280.38,841.82 281.55,839.82 282.60,837.50 C283.65,835.18 284.68,832.55 285.60,830.10 C286.52,827.65 287.37,825.23 288.10,822.80 C288.83,820.37 289.38,817.93 290.00,815.50 C290.62,813.07 291.20,810.63 291.80,808.20 C292.40,805.77 293.13,803.02 293.60,800.90 C294.07,798.78 294.15,797.65 294.60,795.50 C295.05,793.35 295.65,790.95 296.30,788.00 C296.95,785.05 297.82,781.22 298.50,777.80 C299.18,774.38 299.78,770.68 300.40,767.50 C301.02,764.32 301.60,761.25 302.20,758.70 C302.80,756.15 303.33,754.15 304.00,752.20 C304.67,750.25 305.33,748.47 306.20,747.00 C307.07,745.53 308.10,744.32 309.20,743.40 C310.30,742.48 311.35,741.92 312.80,741.50 C314.25,741.08 315.70,741.02 317.90,740.90 C320.10,740.78 324.65,740.82 326.00,740.80" fill="none" stroke="#783cdc" stroke-width="1.85" stroke-linejoin="round" stroke-linecap="butt"/>
<line x1="52.50" y1="880.17" x2="346.30" y2="880.17" stroke="#3fd45e" stroke-width="1.6" stroke-dasharray="6 4.474" stroke-dashoffset="3.17"/>
<line x1="52.50" y1="897.47" x2="346.30" y2="897.47" stroke="#ffa44a" stroke-width="1.6" stroke-dasharray="5.7 3.17" stroke-dashoffset="2.67"/>
<line x1="52.50" y1="899.35" x2="346.30" y2="899.35" stroke="#f03a6a" stroke-width="1.6" stroke-dasharray="2.4 2.72" stroke-dashoffset="1.22"/>
</g>
<text x="57.70" y="877.00" font-size="10" fill="#3fd45e" stroke="#3fd45e" stroke-width="0.45">6V9X</text>
<text x="57.70" y="894.80" font-size="10" fill="#ffa44a" stroke="#ffa44a" stroke-width="0.45">6PQP</text>
<text x="57.70" y="908.50" font-size="10" fill="#f03a6a" stroke="#f03a6a" stroke-width="0.45">6PQQ</text>
<line x1="59.60" y1="794.00" x2="85.40" y2="794.00" stroke="#3a8ac6" stroke-width="1.7"/>
<text x="88.60" y="800.10" font-size="19" fill="#1c1c1c" stroke="#1c1c1c" stroke-width="0.45">Rep1</text>
<line x1="59.60" y1="812.00" x2="85.40" y2="812.00" stroke="#ff72ff" stroke-width="1.7"/>
<text x="88.60" y="818.80" font-size="19" fill="#1c1c1c" stroke="#1c1c1c" stroke-width="0.45">Rep2</text>
<line x1="59.60" y1="830.50" x2="85.40" y2="830.50" stroke="#783cdc" stroke-width="1.7"/>
<text x="88.60" y="837.20" font-size="19" fill="#1c1c1c" stroke="#1c1c1c" stroke-width="0.45">Rep3</text>
<rect x="52.50" y="723.30" width="293.80" height="191.30" fill="none" stroke="#484848" stroke-width="1.3"/>
<line x1="49.30" y1="914.60" x2="52.50" y2="914.60" stroke="#484848" stroke-width="1.2"/>
<text x="45.40" y="921.40" font-size="19" fill="#1c1c1c" stroke="#1c1c1c" stroke-width="0.45" text-anchor="end">0</text>
<line x1="49.30" y1="879.82" x2="52.50" y2="879.82" stroke="#484848" stroke-width="1.2"/>
<text x="45.40" y="886.62" font-size="19" fill="#1c1c1c" stroke="#1c1c1c" stroke-width="0.45" text-anchor="end">2</text>
<line x1="49.30" y1="845.04" x2="52.50" y2="845.04" stroke="#484848" stroke-width="1.2"/>
<text x="45.40" y="851.84" font-size="19" fill="#1c1c1c" stroke="#1c1c1c" stroke-width="0.45" text-anchor="end">4</text>
<line x1="49.30" y1="810.26" x2="52.50" y2="810.26" stroke="#484848" stroke-width="1.2"/>
<text x="45.40" y="817.06" font-size="19" fill="#1c1c1c" stroke="#1c1c1c" stroke-width="0.45" text-anchor="end">6</text>
<line x1="49.30" y1="775.48" x2="52.50" y2="775.48" stroke="#484848" stroke-width="1.2"/>
<text x="45.40" y="782.28" font-size="19" fill="#1c1c1c" stroke="#1c1c1c" stroke-width="0.45" text-anchor="end">8</text>
<line x1="49.30" y1="740.70" x2="52.50" y2="740.70" stroke="#484848" stroke-width="1.2"/>
<text x="45.40" y="747.50" font-size="19" fill="#1c1c1c" stroke="#1c1c1c" stroke-width="0.45" text-anchor="end">10</text>
<line x1="52.50" y1="914.60" x2="52.50" y2="917.80" stroke="#484848" stroke-width="1.2"/>
<text x="52.50" y="933.30" font-size="19" fill="#1c1c1c" stroke="#1c1c1c" stroke-width="0.45" text-anchor="middle">-100</text>
<line x1="98.41" y1="914.60" x2="98.41" y2="917.80" stroke="#484848" stroke-width="1.2"/>
<text x="98.41" y="933.30" font-size="19" fill="#1c1c1c" stroke="#1c1c1c" stroke-width="0.45" text-anchor="middle">-75</text>
<line x1="144.31" y1="914.60" x2="144.31" y2="917.80" stroke="#484848" stroke-width="1.2"/>
<text x="144.31" y="933.30" font-size="19" fill="#1c1c1c" stroke="#1c1c1c" stroke-width="0.45" text-anchor="middle">-50</text>
<line x1="190.22" y1="914.60" x2="190.22" y2="917.80" stroke="#484848" stroke-width="1.2"/>
<text x="190.22" y="933.30" font-size="19" fill="#1c1c1c" stroke="#1c1c1c" stroke-width="0.45" text-anchor="middle">-25</text>
<line x1="236.12" y1="914.60" x2="236.12" y2="917.80" stroke="#484848" stroke-width="1.2"/>
<text x="236.12" y="933.30" font-size="19" fill="#1c1c1c" stroke="#1c1c1c" stroke-width="0.45" text-anchor="middle">0</text>
<line x1="282.03" y1="914.60" x2="282.03" y2="917.80" stroke="#484848" stroke-width="1.2"/>
<text x="282.03" y="933.30" font-size="19" fill="#1c1c1c" stroke="#1c1c1c" stroke-width="0.45" text-anchor="middle">25</text>
<line x1="327.94" y1="914.60" x2="327.94" y2="917.80" stroke="#484848" stroke-width="1.2"/>
<text x="327.94" y="933.30" font-size="19" fill="#1c1c1c" stroke="#1c1c1c" stroke-width="0.45" text-anchor="middle">50</text>
<text x="365.20" y="22.90" font-size="24" fill="#1c1c1c" stroke="#1c1c1c" stroke-width="0.45">D</text>
<text x="432.60" y="48.80" font-size="18.50" fill="#1c1c1c" stroke="#1c1c1c" stroke-width="0.45">Apo pocket-open pore-open</text>
<text transform="translate(378.90,231.50) rotate(-90)" font-size="19.5" fill="#1c1c1c" stroke="#1c1c1c" stroke-width="0.45">Pore Radius (Å)</text>
<text x="532.90" y="285.80" font-size="19.35" fill="#1c1c1c" stroke="#1c1c1c" stroke-width="0.45">z axis</text>
<clipPath id="clipD"><rect x="408.30" y="58.50" width="294.30" height="190.80"/></clipPath>
<g clip-path="url(#clipD)">
<path d="M461.00,75.90 C462.95,75.93 468.90,75.98 472.70,76.10 C476.50,76.22 480.82,76.35 483.80,76.60 C486.78,76.85 488.48,77.07 490.60,77.60 C492.72,78.13 494.67,78.80 496.50,79.80 C498.33,80.80 500.12,82.12 501.60,83.60 C503.08,85.08 504.27,86.87 505.40,88.70 C506.53,90.53 507.48,92.62 508.40,94.60 C509.32,96.58 510.12,98.62 510.90,100.60 C511.68,102.58 512.38,104.38 513.10,106.50 C513.82,108.62 514.50,110.90 515.20,113.30 C515.90,115.70 516.73,118.62 517.30,120.90 C517.87,123.18 518.22,124.90 518.60,127.00 C518.98,129.10 519.08,131.00 519.60,133.50 C520.12,136.00 520.92,139.17 521.70,142.00 C522.48,144.83 523.45,147.67 524.30,150.50 C525.15,153.33 525.95,156.18 526.80,159.00 C527.65,161.82 528.55,164.58 529.40,167.40 C530.25,170.22 531.17,173.47 531.90,175.90 C532.63,178.33 533.02,179.20 533.80,182.00 C534.58,184.80 535.65,189.92 536.60,192.70 C537.55,195.48 538.52,196.72 539.50,198.70 C540.48,200.68 541.50,202.62 542.50,204.60 C543.50,206.58 544.43,208.47 545.50,210.60 C546.57,212.73 547.77,215.15 548.90,217.40 C550.03,219.65 551.17,221.98 552.30,224.10 C553.43,226.22 554.65,228.53 555.70,230.10 C556.75,231.67 557.62,233.08 558.60,233.50 C559.58,233.92 560.68,233.45 561.60,232.60 C562.52,231.75 563.18,229.95 564.10,228.40 C565.02,226.85 566.10,224.78 567.10,223.30 C568.10,221.82 569.18,220.28 570.10,219.50 C571.02,218.72 571.77,218.58 572.60,218.60 C573.43,218.62 574.20,219.12 575.10,219.60 C576.00,220.08 577.02,220.68 578.00,221.50 C578.98,222.32 580.02,223.75 581.00,224.50 C581.98,225.25 582.92,226.17 583.90,226.00 C584.88,225.83 585.90,225.25 586.90,223.50 C587.90,221.75 588.90,218.48 589.90,215.50 C590.90,212.52 591.90,208.90 592.90,205.60 C593.90,202.30 594.90,199.18 595.90,195.70 C596.90,192.22 597.92,188.35 598.90,184.70 C599.88,181.05 600.90,177.17 601.80,173.80 C602.70,170.43 603.43,166.82 604.30,164.50 C605.17,162.18 606.03,160.08 607.00,159.90 C607.97,159.72 609.20,161.78 610.10,163.40 C611.00,165.02 611.55,167.33 612.40,169.60 C613.25,171.87 614.27,174.63 615.20,177.00 C616.13,179.37 617.07,181.63 618.00,183.80 C618.93,185.97 619.85,188.45 620.80,190.00 C621.75,191.55 622.75,193.00 623.70,193.10 C624.65,193.20 625.57,191.78 626.50,190.60 C627.43,189.42 628.35,187.62 629.30,186.00 C630.25,184.38 631.25,182.68 632.20,180.90 C633.15,179.12 634.07,177.27 635.00,175.30 C635.93,173.33 636.95,171.08 637.80,169.10 C638.65,167.12 639.40,165.67 640.10,163.40 C640.80,161.13 641.38,158.13 642.00,155.50 C642.62,152.87 643.25,150.15 643.80,147.60 C644.35,145.05 644.78,142.58 645.30,140.20 C645.82,137.82 646.25,136.13 646.90,133.30 C647.55,130.47 648.52,126.53 649.20,123.20 C649.88,119.87 650.42,116.60 651.00,113.30 C651.58,110.00 652.12,106.47 652.70,103.40 C653.28,100.33 653.90,97.50 654.50,94.90 C655.10,92.30 655.65,89.93 656.30,87.80 C656.95,85.67 657.58,83.68 658.40,82.10 C659.22,80.52 660.13,79.23 661.20,78.30 C662.27,77.37 663.38,76.90 664.80,76.50 C666.22,76.10 667.33,76.00 669.70,75.90 C672.07,75.80 677.45,75.90 679.00,75.90" fill="none" stroke="#3a8ac6" stroke-width="1.85" stroke-linejoin="round" stroke-linecap="butt"/>
<path d="M408.30,75.90 C413.58,75.92 431.38,75.92 440.00,76.00 C448.62,76.08 455.25,76.27 460.00,76.40 C464.75,76.53 465.67,76.52 468.50,76.80 C471.33,77.08 474.60,77.60 477.00,78.10 C479.40,78.60 481.07,79.03 482.90,79.80 C484.73,80.57 486.43,81.57 488.00,82.70 C489.57,83.83 491.02,85.25 492.30,86.60 C493.58,87.95 494.65,89.25 495.70,90.80 C496.75,92.35 497.68,94.13 498.60,95.90 C499.52,97.67 500.35,99.48 501.20,101.40 C502.05,103.32 502.85,105.28 503.70,107.40 C504.55,109.52 505.45,111.85 506.30,114.10 C507.15,116.35 508.13,119.00 508.80,120.90 C509.47,122.80 509.70,123.40 510.30,125.50 C510.90,127.60 511.70,130.75 512.40,133.50 C513.10,136.25 513.80,139.17 514.50,142.00 C515.20,144.83 515.82,147.67 516.60,150.50 C517.38,153.33 518.35,156.18 519.20,159.00 C520.05,161.82 520.85,164.58 521.70,167.40 C522.55,170.22 523.70,173.80 524.30,175.90 C524.90,178.00 524.75,178.05 525.30,180.00 C525.85,181.95 526.72,185.05 527.60,187.60 C528.48,190.15 529.53,192.75 530.60,195.30 C531.67,197.85 532.80,200.35 534.00,202.90 C535.20,205.45 536.45,208.18 537.80,210.60 C539.15,213.02 540.68,215.15 542.10,217.40 C543.52,219.65 544.88,221.98 546.30,224.10 C547.72,226.22 549.18,228.47 550.60,230.10 C552.02,231.73 553.25,232.98 554.80,233.90 C556.35,234.82 558.20,235.38 559.90,235.60 C561.60,235.82 563.30,235.48 565.00,235.20 C566.70,234.92 568.40,234.62 570.10,233.90 C571.80,233.18 573.72,231.80 575.20,230.90 C576.68,230.00 577.70,229.40 579.00,228.50 C580.30,227.60 581.85,226.83 583.00,225.50 C584.15,224.17 584.92,222.48 585.90,220.50 C586.88,218.52 587.90,216.42 588.90,213.60 C589.90,210.78 590.90,206.92 591.90,203.60 C592.90,200.28 593.90,197.18 594.90,193.70 C595.90,190.22 596.92,186.35 597.90,182.70 C598.88,179.05 599.82,175.60 600.80,171.80 C601.78,168.00 602.80,163.30 603.80,159.90 C604.80,156.50 605.88,152.48 606.80,151.40 C607.72,150.32 608.47,152.15 609.30,153.40 C610.13,154.65 610.88,156.67 611.80,158.90 C612.72,161.13 613.82,163.98 614.80,166.80 C615.78,169.62 616.78,173.18 617.70,175.80 C618.62,178.42 619.45,180.47 620.30,182.50 C621.15,184.53 622.00,186.48 622.80,188.00 C623.60,189.52 624.33,190.77 625.10,191.60 C625.87,192.43 626.65,193.13 627.40,193.00 C628.15,192.87 628.75,192.02 629.60,190.80 C630.45,189.58 631.55,187.40 632.50,185.70 C633.45,184.00 634.37,182.40 635.30,180.60 C636.23,178.80 637.17,176.98 638.10,174.90 C639.03,172.82 640.05,170.17 640.90,168.10 C641.75,166.03 642.42,165.28 643.20,162.50 C643.98,159.72 644.90,154.47 645.60,151.40 C646.30,148.33 646.85,146.42 647.40,144.10 C647.95,141.78 648.42,139.57 648.90,137.50 C649.38,135.43 649.78,134.05 650.30,131.70 C650.82,129.35 651.43,126.43 652.00,123.40 C652.57,120.37 653.12,116.80 653.70,113.50 C654.28,110.20 654.90,106.67 655.50,103.60 C656.10,100.53 656.72,97.58 657.30,95.10 C657.88,92.62 658.35,90.65 659.00,88.70 C659.65,86.75 660.37,84.93 661.20,83.40 C662.03,81.87 662.95,80.50 664.00,79.50 C665.05,78.50 666.17,77.90 667.50,77.40 C668.83,76.90 669.92,76.72 672.00,76.50 C674.08,76.28 677.32,76.18 680.00,76.10 C682.68,76.02 686.75,76.02 688.10,76.00" fill="none" stroke="#ff72ff" stroke-width="1.85" stroke-linejoin="round" stroke-linecap="butt"/>
<path d="M417.40,75.90 C421.17,75.93 434.57,76.02 440.00,76.10 C445.43,76.18 446.67,76.22 450.00,76.40 C453.33,76.58 457.48,76.85 460.00,77.20 C462.52,77.55 463.40,78.00 465.10,78.50 C466.80,79.00 468.50,79.50 470.20,80.20 C471.90,80.90 473.60,81.63 475.30,82.70 C477.00,83.77 478.85,85.25 480.40,86.60 C481.95,87.95 483.33,89.32 484.60,90.80 C485.87,92.28 486.93,93.73 488.00,95.50 C489.07,97.27 490.08,99.35 491.00,101.40 C491.92,103.45 492.65,105.68 493.50,107.80 C494.35,109.92 495.25,111.92 496.10,114.10 C496.95,116.28 497.87,118.75 498.60,120.90 C499.33,123.05 499.97,125.18 500.50,127.00 C501.03,128.82 501.17,129.87 501.80,131.80 C502.43,133.73 503.17,136.33 504.30,138.60 C505.43,140.87 507.10,143.13 508.60,145.40 C510.10,147.67 511.75,150.08 513.30,152.20 C514.85,154.32 516.42,156.13 517.90,158.10 C519.38,160.07 520.92,162.02 522.20,164.00 C523.48,165.98 524.52,167.58 525.60,170.00 C526.68,172.42 527.83,176.08 528.70,178.50 C529.57,180.92 529.98,182.27 530.80,184.50 C531.62,186.73 532.63,189.97 533.60,191.90 C534.57,193.83 535.47,194.90 536.60,196.10 C537.73,197.30 539.13,198.18 540.40,199.10 C541.67,200.02 543.07,200.68 544.20,201.60 C545.33,202.52 546.22,203.25 547.20,204.60 C548.18,205.95 549.12,208.00 550.10,209.70 C551.08,211.40 552.03,213.25 553.10,214.80 C554.17,216.35 555.30,217.93 556.50,219.00 C557.70,220.07 559.03,221.05 560.30,221.20 C561.57,221.35 562.90,220.47 564.10,219.90 C565.30,219.33 566.50,218.22 567.50,217.80 C568.50,217.38 569.25,217.12 570.10,217.40 C570.95,217.68 571.73,218.52 572.60,219.50 C573.47,220.48 574.40,222.38 575.30,223.30 C576.20,224.22 577.05,224.80 578.00,225.00 C578.95,225.20 580.02,225.42 581.00,224.50 C581.98,223.58 582.92,221.65 583.90,219.50 C584.88,217.35 585.90,214.42 586.90,211.60 C587.90,208.78 588.90,205.58 589.90,202.60 C590.90,199.62 591.90,196.68 592.90,193.70 C593.90,190.72 594.90,187.68 595.90,184.70 C596.90,181.72 597.92,178.95 598.90,175.80 C599.88,172.65 600.82,168.95 601.80,165.80 C602.78,162.65 603.80,158.97 604.80,156.90 C605.80,154.83 606.80,153.40 607.80,153.40 C608.80,153.40 610.10,155.77 610.80,156.90 C611.50,158.03 611.45,158.73 612.00,160.20 C612.55,161.67 613.28,163.57 614.10,165.70 C614.92,167.83 615.97,170.55 616.90,173.00 C617.83,175.45 618.77,178.03 619.70,180.40 C620.63,182.77 621.65,185.37 622.50,187.20 C623.35,189.03 624.03,190.47 624.80,191.40 C625.57,192.33 626.35,192.93 627.10,192.80 C627.85,192.67 628.45,191.82 629.30,190.60 C630.15,189.38 631.25,187.20 632.20,185.50 C633.15,183.80 634.07,182.20 635.00,180.40 C635.93,178.60 636.87,176.78 637.80,174.70 C638.73,172.62 639.75,169.97 640.60,167.90 C641.45,165.83 642.12,165.08 642.90,162.30 C643.68,159.52 644.60,154.27 645.30,151.20 C646.00,148.13 646.55,146.22 647.10,143.90 C647.65,141.58 648.12,139.37 648.60,137.30 C649.08,135.23 649.48,133.85 650.00,131.50 C650.52,129.15 651.13,126.23 651.70,123.20 C652.27,120.17 652.82,116.60 653.40,113.30 C653.98,110.00 654.60,106.47 655.20,103.40 C655.80,100.33 656.42,97.38 657.00,94.90 C657.58,92.42 658.05,90.45 658.70,88.50 C659.35,86.55 660.07,84.73 660.90,83.20 C661.73,81.67 662.65,80.30 663.70,79.30 C664.75,78.30 665.85,77.70 667.20,77.20 C668.55,76.70 669.83,76.50 671.80,76.30 C673.77,76.10 677.80,76.05 679.00,76.00" fill="none" stroke="#783cdc" stroke-width="1.85" stroke-linejoin="round" stroke-linecap="butt"/>
<line x1="408.30" y1="214.97" x2="702.60" y2="214.97" stroke="#3fd45e" stroke-width="1.6" stroke-dasharray="6 4.474" stroke-dashoffset="3.17"/>
<line x1="408.30" y1="232.22" x2="702.60" y2="232.22" stroke="#ffa44a" stroke-width="1.6" stroke-dasharray="5.7 3.17" stroke-dashoffset="2.67"/>
<line x1="408.30" y1="234.09" x2="702.60" y2="234.09" stroke="#f03a6a" stroke-width="1.6" stroke-dasharray="2.4 2.72" stroke-dashoffset="1.22"/>
</g>
<text x="413.50" y="211.70" font-size="10" fill="#3fd45e" stroke="#3fd45e" stroke-width="0.45">6V9X</text>
<text x="413.50" y="229.50" font-size="10" fill="#ffa44a" stroke="#ffa44a" stroke-width="0.45">6PQP</text>
<text x="413.50" y="243.20" font-size="10" fill="#f03a6a" stroke="#f03a6a" stroke-width="0.45">6PQQ</text>
<line x1="417.20" y1="128.00" x2="442.60" y2="128.00" stroke="#3a8ac6" stroke-width="1.7"/>
<text x="446.60" y="134.00" font-size="19" fill="#1c1c1c" stroke="#1c1c1c" stroke-width="0.45">Rep1</text>
<line x1="417.20" y1="146.10" x2="442.60" y2="146.10" stroke="#ff72ff" stroke-width="1.7"/>
<text x="446.60" y="152.40" font-size="19" fill="#1c1c1c" stroke="#1c1c1c" stroke-width="0.45">Rep2</text>
<line x1="417.20" y1="164.00" x2="442.60" y2="164.00" stroke="#783cdc" stroke-width="1.7"/>
<text x="446.60" y="171.50" font-size="19" fill="#1c1c1c" stroke="#1c1c1c" stroke-width="0.45">Rep3</text>
<rect x="408.30" y="58.50" width="294.30" height="190.80" fill="none" stroke="#484848" stroke-width="1.3"/>
<line x1="405.10" y1="249.30" x2="408.30" y2="249.30" stroke="#484848" stroke-width="1.2"/>
<text x="402.80" y="257.40" font-size="19" fill="#1c1c1c" stroke="#1c1c1c" stroke-width="0.45" text-anchor="end">0</text>
<line x1="405.10" y1="214.62" x2="408.30" y2="214.62" stroke="#484848" stroke-width="1.2"/>
<text x="402.80" y="222.72" font-size="19" fill="#1c1c1c" stroke="#1c1c1c" stroke-width="0.45" text-anchor="end">2</text>
<line x1="405.10" y1="179.94" x2="408.30" y2="179.94" stroke="#484848" stroke-width="1.2"/>
<text x="402.80" y="188.04" font-size="19" fill="#1c1c1c" stroke="#1c1c1c" stroke-width="0.45" text-anchor="end">4</text>
<line x1="405.10" y1="145.26" x2="408.30" y2="145.26" stroke="#484848" stroke-width="1.2"/>
<text x="402.80" y="153.36" font-size="19" fill="#1c1c1c" stroke="#1c1c1c" stroke-width="0.45" text-anchor="end">6</text>
<line x1="405.10" y1="110.58" x2="408.30" y2="110.58" stroke="#484848" stroke-width="1.2"/>
<text x="402.80" y="118.68" font-size="19" fill="#1c1c1c" stroke="#1c1c1c" stroke-width="0.45" text-anchor="end">8</text>
<line x1="405.10" y1="75.90" x2="408.30" y2="75.90" stroke="#484848" stroke-width="1.2"/>
<text x="402.80" y="84.00" font-size="19" fill="#1c1c1c" stroke="#1c1c1c" stroke-width="0.45" text-anchor="end">10</text>
<line x1="408.30" y1="249.30" x2="408.30" y2="252.50" stroke="#484848" stroke-width="1.2"/>
<text x="408.30" y="270.00" font-size="19" fill="#1c1c1c" stroke="#1c1c1c" stroke-width="0.45" text-anchor="middle">-100</text>
<line x1="454.28" y1="249.30" x2="454.28" y2="252.50" stroke="#484848" stroke-width="1.2"/>
<text x="454.28" y="270.00" font-size="19" fill="#1c1c1c" stroke="#1c1c1c" stroke-width="0.45" text-anchor="middle">-75</text>
<line x1="500.27" y1="249.30" x2="500.27" y2="252.50" stroke="#484848" stroke-width="1.2"/>
<text x="500.27" y="270.00" font-size="19" fill="#1c1c1c" stroke="#1c1c1c" stroke-width="0.45" text-anchor="middle">-50</text>
<line x1="546.25" y1="249.30" x2="546.25" y2="252.50" stroke="#484848" stroke-width="1.2"/>
<text x="546.25" y="270.00" font-size="19" fill="#1c1c1c" stroke="#1c1c1c" stroke-width="0.45" text-anchor="middle">-25</text>
<line x1="592.24" y1="249.30" x2="592.24" y2="252.50" stroke="#484848" stroke-width="1.2"/>
<text x="592.24" y="270.00" font-size="19" fill="#1c1c1c" stroke="#1c1c1c" stroke-width="0.45" text-anchor="middle">0</text>
<line x1="638.22" y1="249.30" x2="638.22" y2="252.50" stroke="#484848" stroke-width="1.2"/>
<text x="638.22" y="270.00" font-size="19" fill="#1c1c1c" stroke="#1c1c1c" stroke-width="0.45" text-anchor="middle">25</text>
<line x1="684.21" y1="249.30" x2="684.21" y2="252.50" stroke="#484848" stroke-width="1.2"/>
<text x="684.21" y="270.00" font-size="19" fill="#1c1c1c" stroke="#1c1c1c" stroke-width="0.45" text-anchor="middle">50</text>
<text x="364.00" y="361.90" font-size="24" fill="#1c1c1c" stroke="#1c1c1c" stroke-width="0.45">E</text>
<text x="410.90" y="382.80" font-size="18.55" fill="#1c1c1c" stroke="#1c1c1c" stroke-width="0.45">Pocket-open pore-open IAC@C665</text>
<text transform="translate(378.90,564.70) rotate(-90)" font-size="19.5" fill="#1c1c1c" stroke="#1c1c1c" stroke-width="0.45">Pore Radius (Å)</text>
<text x="533.60" y="618.90" font-size="19.35" fill="#1c1c1c" stroke="#1c1c1c" stroke-width="0.45">z axis</text>
<clipPath id="clipE"><rect x="409.70" y="392.60" width="293.50" height="190.60"/></clipPath>
<g clip-path="url(#clipE)">
<path d="M453.00,409.70 C457.50,409.72 473.73,409.77 480.00,409.80 C486.27,409.83 487.77,409.65 490.60,409.90 C493.43,410.15 495.12,410.65 497.00,411.30 C498.88,411.95 500.37,412.80 501.90,413.80 C503.43,414.80 505.10,416.22 506.20,417.30 C507.30,418.38 507.80,419.18 508.50,420.30 C509.20,421.42 509.67,422.55 510.40,424.00 C511.13,425.45 512.13,427.22 512.90,429.00 C513.67,430.78 514.35,432.82 515.00,434.70 C515.65,436.58 516.22,438.42 516.80,440.30 C517.38,442.18 517.92,444.00 518.50,446.00 C519.08,448.00 519.85,450.63 520.30,452.30 C520.75,453.97 520.85,454.08 521.20,456.00 C521.55,457.92 521.88,461.03 522.40,463.80 C522.92,466.57 523.62,469.67 524.30,472.60 C524.98,475.53 525.77,478.48 526.50,481.40 C527.23,484.32 527.92,487.18 528.70,490.10 C529.48,493.02 530.28,495.97 531.20,498.90 C532.12,501.83 533.30,504.93 534.20,507.70 C535.10,510.47 535.83,512.95 536.60,515.50 C537.37,518.05 537.92,520.53 538.80,523.00 C539.68,525.47 540.82,527.95 541.90,530.30 C542.98,532.65 544.17,534.83 545.30,537.10 C546.43,539.37 547.57,542.07 548.70,543.90 C549.83,545.73 550.97,547.12 552.10,548.10 C553.23,549.08 554.23,549.58 555.50,549.80 C556.77,550.02 558.28,549.62 559.70,549.40 C561.12,549.18 562.58,548.57 564.00,548.50 C565.42,548.43 566.80,548.78 568.20,549.00 C569.60,549.22 571.13,549.80 572.40,549.80 C573.67,549.80 574.80,549.57 575.80,549.00 C576.80,548.43 577.62,547.57 578.40,546.40 C579.18,545.23 579.68,543.87 580.50,542.00 C581.32,540.13 582.27,538.00 583.30,535.20 C584.33,532.40 585.58,528.82 586.70,525.20 C587.82,521.58 588.88,517.55 590.00,513.50 C591.12,509.45 592.35,504.95 593.40,500.90 C594.45,496.85 595.27,492.40 596.30,489.20 C597.33,486.00 598.55,482.38 599.60,481.70 C600.65,481.02 601.68,483.02 602.60,485.10 C603.52,487.18 604.27,491.15 605.10,494.20 C605.93,497.25 606.77,500.33 607.60,503.40 C608.43,506.47 609.27,509.80 610.10,512.60 C610.93,515.40 611.77,517.97 612.60,520.20 C613.43,522.43 614.20,524.62 615.10,526.00 C616.00,527.38 617.02,528.35 618.00,528.50 C618.98,528.65 619.95,528.02 621.00,526.90 C622.05,525.78 623.18,523.75 624.30,521.80 C625.42,519.85 626.78,517.25 627.70,515.20 C628.62,513.15 628.87,512.00 629.80,509.50 C630.73,507.00 632.13,503.15 633.30,500.20 C634.47,497.25 635.73,494.58 636.80,491.80 C637.87,489.02 638.87,486.28 639.70,483.50 C640.53,480.72 641.10,477.88 641.80,475.10 C642.50,472.32 643.28,469.58 643.90,466.80 C644.52,464.02 644.95,461.20 645.50,458.40 C646.05,455.60 646.70,452.23 647.20,450.00 C647.70,447.77 648.05,447.10 648.50,445.00 C648.95,442.90 649.43,439.83 649.90,437.40 C650.37,434.97 650.83,432.75 651.30,430.40 C651.77,428.05 652.23,425.32 652.70,423.30 C653.17,421.28 653.57,419.83 654.10,418.30 C654.63,416.77 655.18,415.22 655.90,414.10 C656.62,412.98 657.40,412.22 658.40,411.60 C659.40,410.98 660.48,410.67 661.90,410.40 C663.32,410.13 663.88,410.10 666.90,410.00 C669.92,409.90 677.82,409.83 680.00,409.80" fill="none" stroke="#3a8ac6" stroke-width="1.85" stroke-linejoin="round" stroke-linecap="butt"/>
<path d="M453.00,409.70 C457.50,409.73 473.62,409.57 480.00,409.90 C486.38,410.23 488.23,411.00 491.30,411.70 C494.37,412.40 496.40,413.22 498.40,414.10 C500.40,414.98 502.00,416.05 503.30,417.00 C504.60,417.95 505.32,418.75 506.20,419.80 C507.08,420.85 507.83,422.00 508.60,423.30 C509.37,424.60 510.15,426.07 510.80,427.60 C511.45,429.13 511.92,430.73 512.50,432.50 C513.08,434.27 513.70,436.32 514.30,438.20 C514.90,440.08 515.57,441.92 516.10,443.80 C516.63,445.68 517.12,447.63 517.50,449.50 C517.88,451.37 517.95,452.62 518.40,455.00 C518.85,457.38 519.58,460.87 520.20,463.80 C520.82,466.73 521.48,469.67 522.10,472.60 C522.72,475.53 523.23,478.48 523.90,481.40 C524.57,484.32 525.37,487.18 526.10,490.10 C526.83,493.02 527.50,495.97 528.30,498.90 C529.10,501.83 530.08,504.93 530.90,507.70 C531.72,510.47 532.50,513.02 533.20,515.50 C533.90,517.98 534.22,519.85 535.10,522.60 C535.98,525.35 537.37,529.02 538.50,532.00 C539.63,534.98 540.77,537.95 541.90,540.50 C543.03,543.05 544.17,545.18 545.30,547.30 C546.43,549.42 547.57,551.23 548.70,553.20 C549.83,555.17 550.97,557.62 552.10,559.10 C553.23,560.58 554.37,561.53 555.50,562.10 C556.63,562.67 557.77,562.72 558.90,562.50 C560.03,562.28 561.17,561.50 562.30,560.80 C563.43,560.10 564.58,558.93 565.70,558.30 C566.82,557.67 567.88,557.22 569.00,557.00 C570.12,556.78 571.27,556.85 572.40,557.00 C573.53,557.15 574.67,557.62 575.80,557.90 C576.93,558.18 578.20,558.78 579.20,558.70 C580.20,558.62 580.95,558.32 581.80,557.40 C582.65,556.48 583.45,555.17 584.30,553.20 C585.15,551.23 586.05,548.28 586.90,545.60 C587.75,542.92 588.50,540.08 589.40,537.10 C590.30,534.12 591.27,531.22 592.30,527.70 C593.33,524.18 594.50,519.90 595.60,516.00 C596.70,512.10 597.85,508.07 598.90,504.30 C599.95,500.53 601.08,496.27 601.90,493.40 C602.72,490.53 602.98,487.10 603.80,487.10 C604.62,487.10 605.88,490.95 606.80,493.40 C607.72,495.85 608.47,499.02 609.30,501.80 C610.13,504.58 610.97,507.32 611.80,510.10 C612.63,512.88 613.47,516.13 614.30,518.50 C615.13,520.87 615.90,522.90 616.80,524.30 C617.70,525.70 618.73,526.75 619.70,526.90 C620.67,527.05 621.62,526.32 622.60,525.20 C623.58,524.08 624.63,522.63 625.60,520.20 C626.57,517.77 627.25,513.93 628.40,510.60 C629.55,507.27 631.25,503.33 632.50,500.20 C633.75,497.07 634.85,494.58 635.90,491.80 C636.95,489.02 637.97,486.28 638.80,483.50 C639.63,480.72 640.20,477.88 640.90,475.10 C641.60,472.32 642.38,469.58 643.00,466.80 C643.62,464.02 644.05,461.20 644.60,458.40 C645.15,455.60 645.80,452.52 646.30,450.00 C646.80,447.48 647.18,445.40 647.60,443.30 C648.02,441.20 648.35,439.55 648.80,437.40 C649.25,435.25 649.82,432.75 650.30,430.40 C650.78,428.05 651.23,425.43 651.70,423.30 C652.17,421.17 652.57,419.25 653.10,417.60 C653.63,415.95 654.20,414.52 654.90,413.40 C655.60,412.28 656.25,411.48 657.30,410.90 C658.35,410.32 659.60,410.10 661.20,409.90 C662.80,409.70 664.77,409.73 666.90,409.70 C669.03,409.67 672.82,409.70 674.00,409.70" fill="none" stroke="#ff72ff" stroke-width="1.85" stroke-linejoin="round" stroke-linecap="butt"/>
<path d="M453.00,409.80 C455.83,409.80 465.50,409.78 470.00,409.80 C474.50,409.82 477.38,409.82 480.00,409.90 C482.62,409.98 483.82,410.07 485.70,410.30 C487.58,410.53 489.42,410.83 491.30,411.30 C493.18,411.77 495.23,412.45 497.00,413.10 C498.77,413.75 500.48,414.50 501.90,415.20 C503.32,415.90 504.43,416.47 505.50,417.30 C506.57,418.13 507.37,419.08 508.30,420.20 C509.23,421.32 510.22,422.53 511.10,424.00 C511.98,425.47 512.83,427.22 513.60,429.00 C514.37,430.78 515.05,432.82 515.70,434.70 C516.35,436.58 516.90,438.42 517.50,440.30 C518.10,442.18 518.72,444.00 519.30,446.00 C519.88,448.00 520.55,450.55 521.00,452.30 C521.45,454.05 521.52,454.58 522.00,456.50 C522.48,458.42 523.22,461.12 523.90,463.80 C524.58,466.48 525.30,469.67 526.10,472.60 C526.90,475.53 527.85,478.48 528.70,481.40 C529.55,484.32 530.28,487.30 531.20,490.10 C532.12,492.90 533.10,495.52 534.20,498.20 C535.30,500.88 536.52,503.40 537.80,506.20 C539.08,509.00 540.70,512.53 541.90,515.00 C543.10,517.47 543.95,519.00 545.00,521.00 C546.05,523.00 547.17,525.03 548.20,527.00 C549.23,528.97 550.13,530.98 551.20,532.80 C552.27,534.62 553.47,536.33 554.60,537.90 C555.73,539.47 556.72,540.92 558.00,542.20 C559.28,543.48 561.02,544.33 562.30,545.60 C563.58,546.87 564.58,548.40 565.70,549.80 C566.82,551.20 567.88,552.87 569.00,554.00 C570.12,555.13 571.27,556.03 572.40,556.60 C573.53,557.17 574.67,557.33 575.80,557.40 C576.93,557.47 578.07,557.48 579.20,557.00 C580.33,556.52 581.60,555.55 582.60,554.50 C583.60,553.45 584.38,552.62 585.20,550.70 C586.02,548.78 586.77,545.45 587.50,543.00 C588.23,540.55 588.77,538.55 589.60,536.00 C590.43,533.45 591.45,531.03 592.50,527.70 C593.55,524.37 594.78,519.90 595.90,516.00 C597.02,512.10 598.15,508.07 599.20,504.30 C600.25,500.53 601.22,496.18 602.20,493.40 C603.18,490.62 604.20,488.43 605.10,487.60 C606.00,486.77 606.77,487.15 607.60,488.40 C608.43,489.65 609.27,492.60 610.10,495.10 C610.93,497.60 611.77,500.62 612.60,503.40 C613.43,506.18 614.27,509.15 615.10,511.80 C615.93,514.45 616.77,517.07 617.60,519.30 C618.43,521.53 619.18,523.80 620.10,525.20 C621.02,526.60 622.12,527.70 623.10,527.70 C624.08,527.70 625.08,526.57 626.00,525.20 C626.92,523.83 627.65,521.72 628.60,519.50 C629.55,517.28 630.63,514.57 631.70,511.90 C632.77,509.23 633.88,506.28 635.00,503.50 C636.12,500.72 637.35,497.98 638.40,495.20 C639.45,492.42 640.40,489.58 641.30,486.80 C642.20,484.02 643.03,481.28 643.80,478.50 C644.57,475.72 645.20,472.90 645.90,470.10 C646.60,467.30 647.37,464.48 648.00,461.70 C648.63,458.92 649.15,456.18 649.70,453.40 C650.25,450.62 650.80,447.67 651.30,445.00 C651.80,442.33 652.23,439.83 652.70,437.40 C653.17,434.97 653.62,432.52 654.10,430.40 C654.58,428.28 655.07,426.60 655.60,424.70 C656.13,422.80 656.67,420.65 657.30,419.00 C657.93,417.35 658.57,415.97 659.40,414.80 C660.23,413.63 661.17,412.70 662.30,412.00 C663.43,411.30 664.62,410.93 666.20,410.60 C667.78,410.27 669.50,410.12 671.80,410.00 C674.10,409.88 678.63,409.92 680.00,409.90" fill="none" stroke="#6d1ba8" stroke-width="1.85" stroke-linejoin="round" stroke-linecap="butt"/>
<line x1="409.70" y1="548.85" x2="703.20" y2="548.85" stroke="#3fd45e" stroke-width="1.6" stroke-dasharray="6 4.474" stroke-dashoffset="3.17"/>
<line x1="409.70" y1="566.11" x2="703.20" y2="566.11" stroke="#ffa44a" stroke-width="1.6" stroke-dasharray="5.7 3.17" stroke-dashoffset="2.67"/>
<line x1="409.70" y1="567.98" x2="703.20" y2="567.98" stroke="#f03a6a" stroke-width="1.6" stroke-dasharray="2.4 2.72" stroke-dashoffset="1.22"/>
</g>
<text x="414.90" y="545.60" font-size="10" fill="#3fd45e" stroke="#3fd45e" stroke-width="0.45">6V9X</text>
<text x="414.90" y="563.40" font-size="10" fill="#ffa44a" stroke="#ffa44a" stroke-width="0.45">6PQP</text>
<text x="414.90" y="577.10" font-size="10" fill="#f03a6a" stroke="#f03a6a" stroke-width="0.45">6PQQ</text>
<line x1="414.40" y1="461.00" x2="440.20" y2="461.00" stroke="#3a8ac6" stroke-width="1.7"/>
<text x="446.30" y="466.90" font-size="19" fill="#1c1c1c" stroke="#1c1c1c" stroke-width="0.45">Rep1</text>
<line x1="414.40" y1="478.90" x2="440.20" y2="478.90" stroke="#ff72ff" stroke-width="1.7"/>
<text x="446.30" y="485.30" font-size="19" fill="#1c1c1c" stroke="#1c1c1c" stroke-width="0.45">Rep2</text>
<line x1="414.40" y1="497.30" x2="440.20" y2="497.30" stroke="#6d1ba8" stroke-width="1.7"/>
<text x="446.30" y="503.70" font-size="19" fill="#1c1c1c" stroke="#1c1c1c" stroke-width="0.45">Rep3</text>
<rect x="409.70" y="392.60" width="293.50" height="190.60" fill="none" stroke="#484848" stroke-width="1.3"/>
<line x1="406.50" y1="583.20" x2="409.70" y2="583.20" stroke="#484848" stroke-width="1.2"/>
<text x="402.80" y="591.00" font-size="19" fill="#1c1c1c" stroke="#1c1c1c" stroke-width="0.45" text-anchor="end">0</text>
<line x1="406.50" y1="548.50" x2="409.70" y2="548.50" stroke="#484848" stroke-width="1.2"/>
<text x="402.80" y="556.30" font-size="19" fill="#1c1c1c" stroke="#1c1c1c" stroke-width="0.45" text-anchor="end">2</text>
<line x1="406.50" y1="513.80" x2="409.70" y2="513.80" stroke="#484848" stroke-width="1.2"/>
<text x="402.80" y="521.60" font-size="19" fill="#1c1c1c" stroke="#1c1c1c" stroke-width="0.45" text-anchor="end">4</text>
<line x1="406.50" y1="479.10" x2="409.70" y2="479.10" stroke="#484848" stroke-width="1.2"/>
<text x="402.80" y="486.90" font-size="19" fill="#1c1c1c" stroke="#1c1c1c" stroke-width="0.45" text-anchor="end">6</text>
<line x1="406.50" y1="444.40" x2="409.70" y2="444.40" stroke="#484848" stroke-width="1.2"/>
<text x="402.80" y="452.20" font-size="19" fill="#1c1c1c" stroke="#1c1c1c" stroke-width="0.45" text-anchor="end">8</text>
<line x1="406.50" y1="409.70" x2="409.70" y2="409.70" stroke="#484848" stroke-width="1.2"/>
<text x="402.80" y="417.50" font-size="19" fill="#1c1c1c" stroke="#1c1c1c" stroke-width="0.45" text-anchor="end">10</text>
<line x1="409.70" y1="583.20" x2="409.70" y2="586.40" stroke="#484848" stroke-width="1.2"/>
<text x="409.70" y="603.30" font-size="19" fill="#1c1c1c" stroke="#1c1c1c" stroke-width="0.45" text-anchor="middle">-100</text>
<line x1="455.56" y1="583.20" x2="455.56" y2="586.40" stroke="#484848" stroke-width="1.2"/>
<text x="455.56" y="603.30" font-size="19" fill="#1c1c1c" stroke="#1c1c1c" stroke-width="0.45" text-anchor="middle">-75</text>
<line x1="501.42" y1="583.20" x2="501.42" y2="586.40" stroke="#484848" stroke-width="1.2"/>
<text x="501.42" y="603.30" font-size="19" fill="#1c1c1c" stroke="#1c1c1c" stroke-width="0.45" text-anchor="middle">-50</text>
<line x1="547.28" y1="583.20" x2="547.28" y2="586.40" stroke="#484848" stroke-width="1.2"/>
<text x="547.28" y="603.30" font-size="19" fill="#1c1c1c" stroke="#1c1c1c" stroke-width="0.45" text-anchor="middle">-25</text>
<line x1="593.14" y1="583.20" x2="593.14" y2="586.40" stroke="#484848" stroke-width="1.2"/>
<text x="593.14" y="603.30" font-size="19" fill="#1c1c1c" stroke="#1c1c1c" stroke-width="0.45" text-anchor="middle">0</text>
<line x1="639.00" y1="583.20" x2="639.00" y2="586.40" stroke="#484848" stroke-width="1.2"/>
<text x="639.00" y="603.30" font-size="19" fill="#1c1c1c" stroke="#1c1c1c" stroke-width="0.45" text-anchor="middle">25</text>
<line x1="684.86" y1="583.20" x2="684.86" y2="586.40" stroke="#484848" stroke-width="1.2"/>
<text x="684.86" y="603.30" font-size="19" fill="#1c1c1c" stroke="#1c1c1c" stroke-width="0.45" text-anchor="middle">50</text>
<text x="365.70" y="696.20" font-size="24" fill="#1c1c1c" stroke="#1c1c1c" stroke-width="0.45">F</text>
<text x="401.50" y="716.30" font-size="18.45" fill="#1c1c1c" stroke="#1c1c1c" stroke-width="0.45">Pocket-open pore-open BITC@C621</text>
<text transform="translate(378.90,896.90) rotate(-90)" font-size="19.5" fill="#1c1c1c" stroke="#1c1c1c" stroke-width="0.45">Pore Radius (Å)</text>
<text x="533.60" y="951.40" font-size="19.35" fill="#1c1c1c" stroke="#1c1c1c" stroke-width="0.45">z axis</text>
<clipPath id="clipF"><rect x="409.70" y="723.40" width="293.50" height="190.90"/></clipPath>
<g clip-path="url(#clipF)">
<path d="M474.30,740.80 C475.00,740.77 476.38,740.63 478.50,740.60 C480.62,740.57 484.17,740.57 487.00,740.60 C489.83,740.63 493.10,740.65 495.50,740.80 C497.90,740.95 499.70,741.17 501.40,741.50 C503.10,741.83 504.43,742.23 505.70,742.80 C506.97,743.37 507.95,743.98 509.00,744.90 C510.05,745.82 511.07,747.03 512.00,748.30 C512.93,749.57 513.82,750.95 514.60,752.50 C515.38,754.05 516.00,755.75 516.70,757.60 C517.40,759.45 518.10,761.47 518.80,763.60 C519.50,765.73 520.20,768.00 520.90,770.40 C521.60,772.80 522.42,775.60 523.00,778.00 C523.58,780.40 524.00,782.80 524.40,784.80 C524.80,786.80 524.97,787.72 525.40,790.00 C525.83,792.28 526.38,795.67 527.00,798.50 C527.62,801.33 528.40,804.17 529.10,807.00 C529.80,809.83 530.42,812.67 531.20,815.50 C531.98,818.33 532.88,821.18 533.80,824.00 C534.72,826.82 535.65,829.58 536.70,832.40 C537.75,835.22 539.00,838.63 540.10,840.90 C541.20,843.17 542.32,844.18 543.30,846.00 C544.28,847.82 544.98,849.85 546.00,851.80 C547.02,853.75 548.12,855.87 549.40,857.70 C550.68,859.53 552.28,861.38 553.70,862.80 C555.12,864.22 556.48,865.28 557.90,866.20 C559.32,867.12 560.78,868.08 562.20,868.30 C563.62,868.52 564.98,867.92 566.40,867.50 C567.82,867.08 569.27,865.93 570.70,865.80 C572.13,865.67 573.80,866.17 575.00,866.70 C576.20,867.23 576.93,867.95 577.90,869.00 C578.87,870.05 579.85,871.65 580.80,873.00 C581.75,874.35 582.75,876.18 583.60,877.10 C584.45,878.02 585.13,878.50 585.90,878.50 C586.67,878.50 587.43,877.92 588.20,877.10 C588.97,876.28 589.73,875.05 590.50,873.60 C591.27,872.15 592.07,870.13 592.80,868.40 C593.53,866.67 594.22,865.22 594.90,863.20 C595.58,861.18 596.32,858.58 596.90,856.30 C597.48,854.02 597.60,853.03 598.40,849.50 C599.20,845.97 600.58,839.13 601.70,835.10 C602.82,831.07 604.02,827.73 605.10,825.30 C606.18,822.87 607.20,820.72 608.20,820.50 C609.20,820.28 610.15,822.08 611.10,824.00 C612.05,825.92 612.93,829.20 613.90,832.00 C614.87,834.80 615.92,838.08 616.90,840.80 C617.88,843.52 618.83,846.08 619.80,848.30 C620.77,850.52 621.67,852.57 622.70,854.10 C623.73,855.63 624.90,857.20 626.00,857.50 C627.10,857.80 628.22,857.07 629.30,855.90 C630.38,854.73 631.27,852.83 632.50,850.50 C633.73,848.17 635.45,844.45 636.70,841.90 C637.95,839.35 638.95,837.43 640.00,835.20 C641.05,832.97 642.15,830.73 643.00,828.50 C643.85,826.27 644.48,824.03 645.10,821.80 C645.72,819.57 646.15,817.47 646.70,815.10 C647.25,812.73 647.83,810.10 648.40,807.60 C648.97,805.10 649.55,802.62 650.10,800.10 C650.65,797.58 651.20,794.85 651.70,792.50 C652.20,790.15 652.65,788.17 653.10,786.00 C653.55,783.83 653.83,782.23 654.40,779.50 C654.97,776.77 655.80,772.78 656.50,769.60 C657.20,766.42 657.95,763.12 658.60,760.40 C659.25,757.68 659.75,755.42 660.40,753.30 C661.05,751.18 661.73,749.23 662.50,747.70 C663.27,746.17 664.00,745.05 665.00,744.10 C666.00,743.15 667.08,742.52 668.50,742.00 C669.92,741.48 671.62,741.23 673.50,741.00 C675.38,740.77 677.45,740.67 679.80,740.60 C682.15,740.53 686.30,740.60 687.60,740.60" fill="none" stroke="#3a8ac6" stroke-width="1.85" stroke-linejoin="round" stroke-linecap="butt"/>
<path d="M409.70,740.80 C414.75,740.82 432.28,740.87 440.00,740.90 C447.72,740.93 451.83,740.90 456.00,741.00 C460.17,741.10 462.67,741.35 465.00,741.50 C467.33,741.65 468.32,741.77 470.00,741.90 C471.68,742.03 473.40,742.02 475.10,742.30 C476.80,742.58 478.50,743.10 480.20,743.60 C481.90,744.10 483.60,744.58 485.30,745.30 C487.00,746.02 488.85,746.98 490.40,747.90 C491.95,748.82 493.27,749.68 494.60,750.80 C495.93,751.92 497.20,753.25 498.40,754.60 C499.60,755.95 500.73,757.40 501.80,758.90 C502.87,760.40 503.80,761.97 504.80,763.60 C505.80,765.23 506.88,767.02 507.80,768.70 C508.72,770.38 509.53,772.02 510.30,773.70 C511.07,775.38 511.68,776.95 512.40,778.80 C513.12,780.65 513.95,782.93 514.60,784.80 C515.25,786.67 515.65,787.72 516.30,790.00 C516.95,792.28 517.72,795.67 518.50,798.50 C519.28,801.33 520.15,804.17 521.00,807.00 C521.85,809.83 522.75,812.67 523.60,815.50 C524.45,818.33 525.25,821.18 526.10,824.00 C526.95,826.82 527.78,829.58 528.70,832.40 C529.62,835.22 530.47,838.13 531.60,840.90 C532.73,843.67 534.37,846.48 535.50,849.00 C536.63,851.52 537.35,853.13 538.40,856.00 C539.45,858.87 540.67,863.08 541.80,866.20 C542.93,869.32 543.93,871.87 545.20,874.70 C546.47,877.53 547.98,880.80 549.40,883.20 C550.82,885.60 552.13,887.55 553.70,889.10 C555.27,890.65 557.10,891.50 558.80,892.50 C560.50,893.50 562.20,894.17 563.90,895.10 C565.60,896.03 567.57,897.15 569.00,898.10 C570.43,899.05 571.37,900.13 572.50,900.80 C573.63,901.47 574.75,902.12 575.80,902.10 C576.85,902.08 577.78,901.42 578.80,900.70 C579.82,899.98 580.90,898.95 581.90,897.80 C582.90,896.65 583.93,895.25 584.80,893.80 C585.67,892.35 586.33,890.83 587.10,889.10 C587.87,887.37 588.68,885.40 589.40,883.40 C590.12,881.40 590.73,879.32 591.40,877.10 C592.07,874.88 592.73,872.50 593.40,870.10 C594.07,867.70 594.72,865.08 595.40,862.70 C596.08,860.32 596.80,857.92 597.50,855.80 C598.20,853.68 598.62,853.17 599.60,850.00 C600.58,846.83 602.28,840.95 603.40,836.80 C604.52,832.65 605.33,828.03 606.30,825.10 C607.27,822.17 608.22,819.62 609.20,819.20 C610.18,818.78 611.22,820.78 612.20,822.60 C613.18,824.42 614.13,827.47 615.10,830.10 C616.07,832.73 617.02,835.90 618.00,838.40 C618.98,840.90 620.02,843.22 621.00,845.10 C621.98,846.98 622.87,848.65 623.90,849.70 C624.93,850.75 626.08,851.47 627.20,851.40 C628.32,851.33 629.48,850.48 630.60,849.30 C631.72,848.12 632.83,845.93 633.90,844.30 C634.97,842.67 635.95,841.08 637.00,839.50 C638.05,837.92 639.20,836.63 640.20,834.80 C641.20,832.97 642.18,830.67 643.00,828.50 C643.82,826.33 644.48,824.03 645.10,821.80 C645.72,819.57 646.15,817.47 646.70,815.10 C647.25,812.73 647.83,810.10 648.40,807.60 C648.97,805.10 649.55,802.62 650.10,800.10 C650.65,797.58 651.20,794.85 651.70,792.50 C652.20,790.15 652.65,788.17 653.10,786.00 C653.55,783.83 653.83,782.23 654.40,779.50 C654.97,776.77 655.80,772.78 656.50,769.60 C657.20,766.42 657.95,763.12 658.60,760.40 C659.25,757.68 659.75,755.42 660.40,753.30 C661.05,751.18 661.73,749.23 662.50,747.70 C663.27,746.17 664.00,745.05 665.00,744.10 C666.00,743.15 667.08,742.52 668.50,742.00 C669.92,741.48 671.62,741.23 673.50,741.00 C675.38,740.77 677.45,740.67 679.80,740.60 C682.15,740.53 686.30,740.60 687.60,740.60" fill="none" stroke="#ff72ff" stroke-width="1.85" stroke-linejoin="round" stroke-linecap="butt"/>
<path d="M455.20,740.80 C456.83,740.87 462.53,741.08 465.00,741.20 C467.47,741.32 468.03,741.38 470.00,741.50 C471.97,741.62 474.53,741.68 476.80,741.90 C479.07,742.12 481.48,742.37 483.60,742.80 C485.72,743.23 487.67,743.87 489.50,744.50 C491.33,745.13 492.97,745.75 494.60,746.60 C496.23,747.45 497.88,748.47 499.30,749.60 C500.72,750.73 501.90,752.07 503.10,753.40 C504.30,754.73 505.43,756.12 506.50,757.60 C507.57,759.08 508.58,760.67 509.50,762.30 C510.42,763.93 511.23,765.70 512.00,767.40 C512.77,769.10 513.38,770.73 514.10,772.50 C514.82,774.27 515.58,776.02 516.30,778.00 C517.02,779.98 517.80,782.40 518.40,784.40 C519.00,786.40 519.32,787.65 519.90,790.00 C520.48,792.35 521.22,795.67 521.90,798.50 C522.58,801.33 523.30,804.17 524.00,807.00 C524.70,809.83 525.38,812.67 526.10,815.50 C526.82,818.33 527.52,821.18 528.30,824.00 C529.08,826.82 529.82,829.58 530.80,832.40 C531.78,835.22 533.22,838.80 534.20,840.90 C535.18,843.00 535.87,843.33 536.70,845.00 C537.53,846.67 538.22,849.07 539.20,850.90 C540.18,852.73 541.32,854.30 542.60,856.00 C543.88,857.70 545.48,859.40 546.90,861.10 C548.32,862.80 549.68,864.35 551.10,866.20 C552.52,868.05 553.98,870.22 555.40,872.20 C556.82,874.18 558.18,876.27 559.60,878.10 C561.02,879.93 562.33,881.72 563.90,883.20 C565.47,884.68 567.15,885.82 569.00,887.00 C570.85,888.18 573.42,889.95 575.00,890.30 C576.58,890.65 577.35,889.77 578.50,889.10 C579.65,888.43 580.85,887.45 581.90,886.30 C582.95,885.15 583.93,883.65 584.80,882.20 C585.67,880.75 586.33,879.13 587.10,877.60 C587.87,876.07 588.63,874.72 589.40,873.00 C590.17,871.28 590.93,869.22 591.70,867.30 C592.47,865.38 593.23,863.52 594.00,861.50 C594.77,859.48 595.63,857.20 596.30,855.20 C596.97,853.20 597.10,852.85 598.00,849.50 C598.90,846.15 600.52,839.03 601.70,835.10 C602.88,831.17 604.05,828.07 605.10,825.90 C606.15,823.73 607.03,822.23 608.00,822.10 C608.97,821.97 609.93,823.35 610.90,825.10 C611.87,826.85 612.82,829.95 613.80,832.60 C614.78,835.25 615.82,838.35 616.80,841.00 C617.78,843.65 618.73,846.28 619.70,848.50 C620.67,850.72 621.55,852.77 622.60,854.30 C623.65,855.83 624.88,857.42 626.00,857.70 C627.12,857.98 628.22,857.20 629.30,856.00 C630.38,854.80 631.27,852.85 632.50,850.50 C633.73,848.15 635.45,844.45 636.70,841.90 C637.95,839.35 638.95,837.43 640.00,835.20 C641.05,832.97 642.15,830.73 643.00,828.50 C643.85,826.27 644.48,824.03 645.10,821.80 C645.72,819.57 646.15,817.47 646.70,815.10 C647.25,812.73 647.83,810.10 648.40,807.60 C648.97,805.10 649.55,802.62 650.10,800.10 C650.65,797.58 651.20,794.85 651.70,792.50 C652.20,790.15 652.65,788.17 653.10,786.00 C653.55,783.83 653.83,782.23 654.40,779.50 C654.97,776.77 655.80,772.78 656.50,769.60 C657.20,766.42 657.95,763.12 658.60,760.40 C659.25,757.68 659.75,755.42 660.40,753.30 C661.05,751.18 661.73,749.23 662.50,747.70 C663.27,746.17 664.00,745.05 665.00,744.10 C666.00,743.15 667.08,742.52 668.50,742.00 C669.92,741.48 671.62,741.23 673.50,741.00 C675.38,740.77 677.45,740.67 679.80,740.60 C682.15,740.53 686.30,740.60 687.60,740.60" fill="none" stroke="#6d1ba8" stroke-width="1.85" stroke-linejoin="round" stroke-linecap="butt"/>
<line x1="409.70" y1="879.95" x2="703.20" y2="879.95" stroke="#3fd45e" stroke-width="1.6" stroke-dasharray="6 4.474" stroke-dashoffset="3.17"/>
<line x1="409.70" y1="897.21" x2="703.20" y2="897.21" stroke="#ffa44a" stroke-width="1.6" stroke-dasharray="5.7 3.17" stroke-dashoffset="2.67"/>
<line x1="409.70" y1="899.08" x2="703.20" y2="899.08" stroke="#f03a6a" stroke-width="1.6" stroke-dasharray="2.4 2.72" stroke-dashoffset="1.22"/>
</g>
<text x="414.90" y="876.70" font-size="10" fill="#3fd45e" stroke="#3fd45e" stroke-width="0.45">6V9X</text>
<text x="414.90" y="894.50" font-size="10" fill="#ffa44a" stroke="#ffa44a" stroke-width="0.45">6PQP</text>
<text x="414.90" y="908.20" font-size="10" fill="#f03a6a" stroke="#f03a6a" stroke-width="0.45">6PQQ</text>
<line x1="416.20" y1="793.40" x2="441.70" y2="793.40" stroke="#3a8ac6" stroke-width="1.7"/>
<text x="444.90" y="797.90" font-size="19" fill="#1c1c1c" stroke="#1c1c1c" stroke-width="0.45">Rep1</text>
<line x1="416.20" y1="811.50" x2="441.70" y2="811.50" stroke="#ff72ff" stroke-width="1.7"/>
<text x="444.90" y="816.70" font-size="19" fill="#1c1c1c" stroke="#1c1c1c" stroke-width="0.45">Rep2</text>
<line x1="416.20" y1="829.50" x2="441.70" y2="829.50" stroke="#6d1ba8" stroke-width="1.7"/>
<text x="444.90" y="834.40" font-size="19" fill="#1c1c1c" stroke="#1c1c1c" stroke-width="0.45">Rep3</text>
<rect x="409.70" y="723.40" width="293.50" height="190.90" fill="none" stroke="#484848" stroke-width="1.3"/>
<line x1="406.50" y1="914.30" x2="409.70" y2="914.30" stroke="#484848" stroke-width="1.2"/>
<text x="402.80" y="923.40" font-size="19" fill="#1c1c1c" stroke="#1c1c1c" stroke-width="0.45" text-anchor="end">0</text>
<line x1="406.50" y1="879.60" x2="409.70" y2="879.60" stroke="#484848" stroke-width="1.2"/>
<text x="402.80" y="888.70" font-size="19" fill="#1c1c1c" stroke="#1c1c1c" stroke-width="0.45" text-anchor="end">2</text>
<line x1="406.50" y1="844.90" x2="409.70" y2="844.90" stroke="#484848" stroke-width="1.2"/>
<text x="402.80" y="854.00" font-size="19" fill="#1c1c1c" stroke="#1c1c1c" stroke-width="0.45" text-anchor="end">4</text>
<line x1="406.50" y1="810.20" x2="409.70" y2="810.20" stroke="#484848" stroke-width="1.2"/>
<text x="402.80" y="819.30" font-size="19" fill="#1c1c1c" stroke="#1c1c1c" stroke-width="0.45" text-anchor="end">6</text>
<line x1="406.50" y1="775.50" x2="409.70" y2="775.50" stroke="#484848" stroke-width="1.2"/>
<text x="402.80" y="784.60" font-size="19" fill="#1c1c1c" stroke="#1c1c1c" stroke-width="0.45" text-anchor="end">8</text>
<line x1="406.50" y1="740.80" x2="409.70" y2="740.80" stroke="#484848" stroke-width="1.2"/>
<text x="402.80" y="749.90" font-size="19" fill="#1c1c1c" stroke="#1c1c1c" stroke-width="0.45" text-anchor="end">10</text>
<line x1="406.50" y1="896.95" x2="409.70" y2="896.95" stroke="#484848" stroke-width="1.2"/>
<line x1="409.70" y1="914.30" x2="409.70" y2="917.50" stroke="#484848" stroke-width="1.2"/>
<text x="409.70" y="936.10" font-size="19" fill="#1c1c1c" stroke="#1c1c1c" stroke-width="0.45" text-anchor="middle">-100</text>
<line x1="455.56" y1="914.30" x2="455.56" y2="917.50" stroke="#484848" stroke-width="1.2"/>
<text x="455.56" y="936.10" font-size="19" fill="#1c1c1c" stroke="#1c1c1c" stroke-width="0.45" text-anchor="middle">-75</text>
<line x1="501.42" y1="914.30" x2="501.42" y2="917.50" stroke="#484848" stroke-width="1.2"/>
<text x="501.42" y="936.10" font-size="19" fill="#1c1c1c" stroke="#1c1c1c" stroke-width="0.45" text-anchor="middle">-50</text>
<line x1="547.28" y1="914.30" x2="547.28" y2="917.50" stroke="#484848" stroke-width="1.2"/>
<text x="547.28" y="936.10" font-size="19" fill="#1c1c1c" stroke="#1c1c1c" stroke-width="0.45" text-anchor="middle">-25</text>
<line x1="593.14" y1="914.30" x2="593.14" y2="917.50" stroke="#484848" stroke-width="1.2"/>
<text x="593.14" y="936.10" font-size="19" fill="#1c1c1c" stroke="#1c1c1c" stroke-width="0.45" text-anchor="middle">0</text>
<line x1="639.00" y1="914.30" x2="639.00" y2="917.50" stroke="#484848" stroke-width="1.2"/>
<text x="639.00" y="936.10" font-size="19" fill="#1c1c1c" stroke="#1c1c1c" stroke-width="0.45" text-anchor="middle">25</text>
<line x1="684.86" y1="914.30" x2="684.86" y2="917.50" stroke="#484848" stroke-width="1.2"/>
<text x="684.86" y="936.10" font-size="19" fill="#1c1c1c" stroke="#1c1c1c" stroke-width="0.45" text-anchor="middle">50</text>
</svg></body></html>
